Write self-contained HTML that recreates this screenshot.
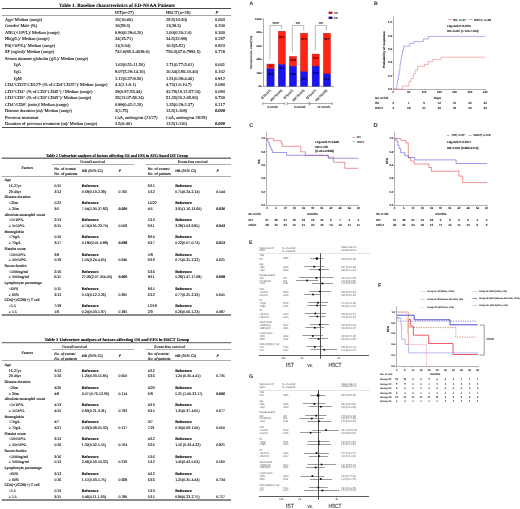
<!DOCTYPE html>
<html><head><meta charset="utf-8"><style>
html,body{margin:0;padding:0;background:#fff;width:520px;height:509px;overflow:hidden}
svg{display:block;will-change:transform}
</style></head><body>
<svg width="520" height="509" viewBox="0 0 520 509" font-family='"Liberation Serif", serif' text-rendering="geometricPrecision">
<rect width="520" height="509" fill="#fff"/>
<text x="59.00" y="6.60" font-size="5.0" font-weight="bold" textLength="116" lengthAdjust="spacingAndGlyphs" stroke="#000" stroke-width="0.08">Table 1. Baseline characteristics of ED-NSAA Patients</text>
<line x1="2.00" y1="8.50" x2="231.00" y2="8.50" stroke="#333" stroke-width="0.9"/>
<text x="115.00" y="13.60" font-size="4.45" stroke="#000" stroke-width="0.08">IST(n=27)</text>
<text x="166.00" y="13.60" font-size="4.45" stroke="#000" stroke-width="0.08">HSCT (n=28)</text>
<text x="215.50" y="13.60" font-size="4.45" font-style="italic" stroke="#000" stroke-width="0.08">P</text>
<line x1="2.00" y1="15.50" x2="231.00" y2="15.50" stroke="#666" stroke-width="0.6"/>
<text x="5.00" y="20.75" font-size="4.45" stroke="#000" stroke-width="0.08">Age/ Median (range)</text>
<text x="115.00" y="20.75" font-size="4.45" stroke="#000" stroke-width="0.08">26(16-60)</text>
<text x="166.00" y="20.75" font-size="4.45" stroke="#000" stroke-width="0.08">28.5(16-50)</text>
<text x="215.00" y="20.75" font-size="4.45" stroke="#000" stroke-width="0.08">0.663</text>
<text x="5.00" y="27.28" font-size="4.45" stroke="#000" stroke-width="0.08">Gender/ Male (%)</text>
<text x="115.00" y="27.28" font-size="4.45" stroke="#000" stroke-width="0.08">16(59.3)</text>
<text x="166.00" y="27.28" font-size="4.45" stroke="#000" stroke-width="0.08">11(39.3)</text>
<text x="215.00" y="27.28" font-size="4.45" stroke="#000" stroke-width="0.08">0.200</text>
<text x="5.00" y="33.81" font-size="4.45" stroke="#000" stroke-width="0.08">ANC(×10<tspan dy="-1" font-size="70%">9</tspan><tspan dy="1">/L)/ Median (range)</tspan></text>
<text x="115.00" y="33.81" font-size="4.45" stroke="#000" stroke-width="0.08">0.90(0.29-6.20)</text>
<text x="166.00" y="33.81" font-size="4.45" stroke="#000" stroke-width="0.08">1.00(0.20-2.0)</text>
<text x="215.00" y="33.81" font-size="4.45" stroke="#000" stroke-width="0.08">0.360</text>
<text x="5.00" y="40.34" font-size="4.45" stroke="#000" stroke-width="0.08">Hb(g/L)/ Median (range)</text>
<text x="115.00" y="40.34" font-size="4.45" stroke="#000" stroke-width="0.08">34(15-71)</text>
<text x="166.00" y="40.34" font-size="4.45" stroke="#000" stroke-width="0.08">34.5(32-99)</text>
<text x="215.00" y="40.34" font-size="4.45" stroke="#000" stroke-width="0.08">0.287</text>
<text x="5.00" y="46.87" font-size="4.45" stroke="#000" stroke-width="0.08">Plt(×10<tspan dy="-1" font-size="70%">9</tspan><tspan dy="1">/L)/ Median (range)</tspan></text>
<text x="115.00" y="46.87" font-size="4.45" stroke="#000" stroke-width="0.08">11(3-34)</text>
<text x="166.00" y="46.87" font-size="4.45" stroke="#000" stroke-width="0.08">10.5(5-52)</text>
<text x="215.00" y="46.87" font-size="4.45" stroke="#000" stroke-width="0.08">0.923</text>
<text x="5.00" y="53.40" font-size="4.45" stroke="#000" stroke-width="0.08">SF (ng/ml)/ Median (range)</text>
<text x="115.00" y="53.40" font-size="4.45" stroke="#000" stroke-width="0.08">742.0(95.3-4639.6)</text>
<text x="166.00" y="53.40" font-size="4.45" stroke="#000" stroke-width="0.08">756.3(47.0-7991.5)</text>
<text x="215.00" y="53.40" font-size="4.45" stroke="#000" stroke-width="0.08">0.728</text>
<text x="5.00" y="59.93" font-size="4.45" stroke="#000" stroke-width="0.08">Serum immune globulin (g/L)/ Median (range)</text>
<text x="14.00" y="66.46" font-size="4.45" stroke="#000" stroke-width="0.08">IgA</text>
<text x="115.00" y="66.46" font-size="4.45" stroke="#000" stroke-width="0.08">1.63(0.51-11.50)</text>
<text x="166.00" y="66.46" font-size="4.45" stroke="#000" stroke-width="0.08">1.71(0.77-5.61)</text>
<text x="215.00" y="66.46" font-size="4.45" stroke="#000" stroke-width="0.08">0.641</text>
<text x="14.00" y="72.99" font-size="4.45" stroke="#000" stroke-width="0.08">IgG</text>
<text x="115.00" y="72.99" font-size="4.45" stroke="#000" stroke-width="0.08">9.07(5.29-14.10)</text>
<text x="166.00" y="72.99" font-size="4.45" stroke="#000" stroke-width="0.08">10.34(3.95-16.40)</text>
<text x="215.00" y="72.99" font-size="4.45" stroke="#000" stroke-width="0.08">0.162</text>
<text x="14.00" y="79.52" font-size="4.45" stroke="#000" stroke-width="0.08">IgM</text>
<text x="115.00" y="79.52" font-size="4.45" stroke="#000" stroke-width="0.08">1.12(0.37-9.50)</text>
<text x="166.00" y="79.52" font-size="4.45" stroke="#000" stroke-width="0.08">1.51(0.39-4.40)</text>
<text x="215.00" y="79.52" font-size="4.45" stroke="#000" stroke-width="0.08">0.912</text>
<text x="5.00" y="86.05" font-size="4.45" stroke="#000" stroke-width="0.08">CD4<tspan dy="-1" font-size="70%">+</tspan><tspan dy="1">CD25</tspan><tspan dy="-1" font-size="70%">+</tspan><tspan dy="1">CD127</tspan><tspan dy="-1" font-size="70%">-</tspan><tspan dy="1"> (% of CD4</tspan><tspan dy="-1" font-size="70%">+</tspan><tspan dy="1">CD25</tspan><tspan dy="-1" font-size="70%">+</tspan><tspan dy="1">)/ Median (range)</tspan></text>
<text x="115.00" y="86.05" font-size="4.45" stroke="#000" stroke-width="0.08">4.3(2.1-8.1)</text>
<text x="166.00" y="86.05" font-size="4.45" stroke="#000" stroke-width="0.08">4.73(1.6-10.7)</text>
<text x="215.00" y="86.05" font-size="4.45" stroke="#000" stroke-width="0.08">0.090</text>
<text x="5.00" y="92.58" font-size="4.45" stroke="#000" stroke-width="0.08">CD3<tspan dy="-1" font-size="70%">+</tspan><tspan dy="1">CD4</tspan><tspan dy="-1" font-size="70%">+</tspan><tspan dy="1"> (% of CD3</tspan><tspan dy="-1" font-size="70%">+</tspan><tspan dy="1">CD45</tspan><tspan dy="-1" font-size="70%">+</tspan><tspan dy="1">) / Median (range)</tspan></text>
<text x="115.00" y="92.58" font-size="4.45" stroke="#000" stroke-width="0.08">39(0.87-55.44)</text>
<text x="166.00" y="92.58" font-size="4.45" stroke="#000" stroke-width="0.08">43.78(18.12-57.24)</text>
<text x="215.00" y="92.58" font-size="4.45" stroke="#000" stroke-width="0.08">0.093</text>
<text x="5.00" y="99.11" font-size="4.45" stroke="#000" stroke-width="0.08">CD3<tspan dy="-1" font-size="70%">+</tspan><tspan dy="1">CD8</tspan><tspan dy="-1" font-size="70%">+</tspan><tspan dy="1"> (% of CD3</tspan><tspan dy="-1" font-size="70%">+</tspan><tspan dy="1">CD45</tspan><tspan dy="-1" font-size="70%">+</tspan><tspan dy="1">)/ Median (range)</tspan></text>
<text x="115.00" y="99.11" font-size="4.45" stroke="#000" stroke-width="0.08">35(13.07-58.24)</text>
<text x="166.00" y="99.11" font-size="4.45" stroke="#000" stroke-width="0.08">51.35(20.2-65.93)</text>
<text x="215.00" y="99.11" font-size="4.45" stroke="#000" stroke-width="0.08">0.730</text>
<text x="5.00" y="105.64" font-size="4.45" stroke="#000" stroke-width="0.08">CD4<tspan dy="-1" font-size="70%">+</tspan><tspan dy="1">/CD8</tspan><tspan dy="-1" font-size="70%">+</tspan><tspan dy="1"> (ratio)/ Median (range)</tspan></text>
<text x="115.00" y="105.64" font-size="4.45" stroke="#000" stroke-width="0.08">0.99(0.42-2.28)</text>
<text x="166.00" y="105.64" font-size="4.45" stroke="#000" stroke-width="0.08">1.35(0.29-2.37)</text>
<text x="215.00" y="105.64" font-size="4.45" stroke="#000" stroke-width="0.08">0.217</text>
<text x="5.00" y="112.17" font-size="4.45" stroke="#000" stroke-width="0.08">Disease duration (m)/ Median (range)</text>
<text x="115.00" y="112.17" font-size="4.45" stroke="#000" stroke-width="0.08">3(1-75)</text>
<text x="166.00" y="112.17" font-size="4.45" stroke="#000" stroke-width="0.08">13.5(1-108)</text>
<text x="215.00" y="112.17" font-size="4.45" font-weight="bold" font-style="italic" stroke="#000" stroke-width="0.08">0.000</text>
<text x="5.00" y="118.70" font-size="4.45" stroke="#000" stroke-width="0.08">Previous treatment</text>
<text x="115.00" y="118.70" font-size="4.45" stroke="#000" stroke-width="0.08">CsA, androgens (21/27)</text>
<text x="166.00" y="118.70" font-size="4.45" stroke="#000" stroke-width="0.08">CsA, androgens 28/28)</text>
<text x="5.00" y="125.23" font-size="4.45" stroke="#000" stroke-width="0.08">Duration of previous treatment (m)/ Median (range)</text>
<text x="115.00" y="125.23" font-size="4.45" stroke="#000" stroke-width="0.08">3.5(0-40)</text>
<text x="166.00" y="125.23" font-size="4.45" stroke="#000" stroke-width="0.08">13.5(1-110)</text>
<text x="215.00" y="125.23" font-size="4.45" font-weight="bold" font-style="italic" stroke="#000" stroke-width="0.08">0.000</text>
<line x1="2.00" y1="127.50" x2="231.00" y2="127.50" stroke="#222" stroke-width="0.8"/>
<text x="46.00" y="156.60" font-size="4.2" font-weight="bold" textLength="142" lengthAdjust="spacingAndGlyphs" stroke="#000" stroke-width="0.1">Table 2 Univariate analyses of factors affecting OS and EFS in ATG-based IST Group</text>
<line x1="1.60" y1="158.20" x2="231.00" y2="158.20" stroke="#777" stroke-width="1.4"/>
<text x="80.30" y="162.90" font-size="3.9" textLength="24.7" lengthAdjust="spacingAndGlyphs" stroke="#000" stroke-width="0.1">Overall survival</text>
<text x="177.70" y="162.90" font-size="3.9" textLength="30" lengthAdjust="spacingAndGlyphs" stroke="#000" stroke-width="0.1">Event-free survival</text>
<line x1="52.00" y1="164.50" x2="134.00" y2="164.50" stroke="#777" stroke-width="0.6"/>
<line x1="145.50" y1="164.50" x2="231.00" y2="164.50" stroke="#777" stroke-width="0.6"/>
<text x="21.50" y="169.05" font-size="3.9" stroke="#000" stroke-width="0.1">Factors</text>
<text x="54.30" y="169.90" font-size="3.9" stroke="#000" stroke-width="0.1">No. of events/</text>
<text x="54.30" y="174.90" font-size="3.9" stroke="#000" stroke-width="0.1">No. of patients</text>
<text x="81.80" y="172.05" font-size="3.9" stroke="#000" stroke-width="0.1">HR (95% CI)</text>
<text x="118.80" y="172.05" font-size="3.9" font-style="italic" stroke="#000" stroke-width="0.1">P</text>
<text x="147.80" y="169.90" font-size="3.9" stroke="#000" stroke-width="0.1">No. of events/</text>
<text x="147.80" y="174.90" font-size="3.9" stroke="#000" stroke-width="0.1">No. of patients</text>
<text x="175.20" y="172.05" font-size="3.9" stroke="#000" stroke-width="0.1">HR (95% CI)</text>
<text x="216.40" y="172.05" font-size="3.9" font-style="italic" stroke="#000" stroke-width="0.1">P</text>
<line x1="1.60" y1="176.50" x2="231.00" y2="176.50" stroke="#888" stroke-width="0.7"/>
<text x="4.40" y="181.30" font-size="3.9" stroke="#000" stroke-width="0.1">Age</text>
<text x="8.80" y="187.01" font-size="3.9" stroke="#000" stroke-width="0.1">16-27yr</text>
<text x="54.30" y="187.01" font-size="3.9" stroke="#000" stroke-width="0.1">5/15</text>
<text x="147.80" y="187.01" font-size="3.9" stroke="#000" stroke-width="0.1">9/15</text>
<text x="81.80" y="187.01" font-size="3.9" font-weight="bold" stroke="#000" stroke-width="0.1">Reference</text>
<text x="175.20" y="187.01" font-size="3.9" font-weight="bold" stroke="#000" stroke-width="0.1">Reference</text>
<text x="8.80" y="192.72" font-size="3.9" stroke="#000" stroke-width="0.1">29-40yr</text>
<text x="54.30" y="192.72" font-size="3.9" stroke="#000" stroke-width="0.1">3/12</text>
<text x="147.80" y="192.72" font-size="3.9" stroke="#000" stroke-width="0.1">5/12</text>
<text x="81.80" y="192.72" font-size="3.9" stroke="#000" stroke-width="0.1">0.68(0.19-2.39)</text>
<text x="175.20" y="192.72" font-size="3.9" stroke="#000" stroke-width="0.1">0.71(0.24-2.14)</text>
<text x="118.50" y="192.72" font-size="3.9" stroke="#000" stroke-width="0.1">0.760</text>
<text x="216.20" y="192.72" font-size="3.9" stroke="#000" stroke-width="0.1">0.544</text>
<text x="4.40" y="198.43" font-size="3.9" stroke="#000" stroke-width="0.1">Disease duration</text>
<text x="8.80" y="204.14" font-size="3.9" stroke="#000" stroke-width="0.1">&lt;20m</text>
<text x="54.30" y="204.14" font-size="3.9" stroke="#000" stroke-width="0.1">5/22</text>
<text x="147.80" y="204.14" font-size="3.9" stroke="#000" stroke-width="0.1">10/22</text>
<text x="81.80" y="204.14" font-size="3.9" font-weight="bold" stroke="#000" stroke-width="0.1">Reference</text>
<text x="175.20" y="204.14" font-size="3.9" font-weight="bold" stroke="#000" stroke-width="0.1">Reference</text>
<text x="8.80" y="209.85" font-size="3.9" stroke="#000" stroke-width="0.1">≥ 20m</text>
<text x="54.30" y="209.85" font-size="3.9" stroke="#000" stroke-width="0.1">3/5</text>
<text x="147.80" y="209.85" font-size="3.9" stroke="#000" stroke-width="0.1">4/5</text>
<text x="81.80" y="209.85" font-size="3.9" stroke="#000" stroke-width="0.1">7.04(1.30-37.82)</text>
<text x="175.20" y="209.85" font-size="3.9" stroke="#000" stroke-width="0.1">3.91(1.16-13.60)</text>
<text x="118.50" y="209.85" font-size="3.9" font-weight="bold" font-style="italic" stroke="#000" stroke-width="0.1">0.029</text>
<text x="216.20" y="209.85" font-size="3.9" font-weight="bold" font-style="italic" stroke="#000" stroke-width="0.1">0.030</text>
<text x="4.40" y="215.56" font-size="3.9" stroke="#000" stroke-width="0.1">Absolute neutrophil count</text>
<text x="8.80" y="221.27" font-size="3.9" stroke="#000" stroke-width="0.1">&lt;1×10<tspan dy="-1" font-size="70%">9</tspan><tspan dy="1">/L</tspan></text>
<text x="54.30" y="221.27" font-size="3.9" stroke="#000" stroke-width="0.1">2/13</text>
<text x="147.80" y="221.27" font-size="3.9" stroke="#000" stroke-width="0.1">5/13</text>
<text x="81.80" y="221.27" font-size="3.9" font-weight="bold" stroke="#000" stroke-width="0.1">Reference</text>
<text x="175.20" y="221.27" font-size="3.9" font-weight="bold" stroke="#000" stroke-width="0.1">Reference</text>
<text x="8.80" y="226.98" font-size="3.9" stroke="#000" stroke-width="0.1">≥ 1×10<tspan dy="-1" font-size="70%">9</tspan><tspan dy="1">/L</tspan></text>
<text x="54.30" y="226.98" font-size="3.9" stroke="#000" stroke-width="0.1">6/11</text>
<text x="147.80" y="226.98" font-size="3.9" stroke="#000" stroke-width="0.1">9/11</text>
<text x="81.80" y="226.98" font-size="3.9" stroke="#000" stroke-width="0.1">4.74(0.95-23.70)</text>
<text x="175.20" y="226.98" font-size="3.9" stroke="#000" stroke-width="0.1">3.28(1.03-9.85)</text>
<text x="118.50" y="226.98" font-size="3.9" stroke="#000" stroke-width="0.1">0.058</text>
<text x="216.20" y="226.98" font-size="3.9" font-weight="bold" font-style="italic" stroke="#000" stroke-width="0.1">0.043</text>
<text x="4.40" y="232.69" font-size="3.9" stroke="#000" stroke-width="0.1">Hemoglobin</text>
<text x="8.80" y="238.40" font-size="3.9" stroke="#000" stroke-width="0.1">&lt;70g/L</text>
<text x="54.30" y="238.40" font-size="3.9" stroke="#000" stroke-width="0.1">5/10</text>
<text x="147.80" y="238.40" font-size="3.9" stroke="#000" stroke-width="0.1">8/10</text>
<text x="81.80" y="238.40" font-size="3.9" font-weight="bold" stroke="#000" stroke-width="0.1">Reference</text>
<text x="175.20" y="238.40" font-size="3.9" font-weight="bold" stroke="#000" stroke-width="0.1">Reference</text>
<text x="8.80" y="244.11" font-size="3.9" stroke="#000" stroke-width="0.1">≥ 70g/L</text>
<text x="54.30" y="244.11" font-size="3.9" stroke="#000" stroke-width="0.1">3/17</text>
<text x="147.80" y="244.11" font-size="3.9" stroke="#000" stroke-width="0.1">6/17</text>
<text x="81.80" y="244.11" font-size="3.9" stroke="#000" stroke-width="0.1">0.180(0.01-0.88)</text>
<text x="175.20" y="244.11" font-size="3.9" stroke="#000" stroke-width="0.1">0.22(0.07-0.73)</text>
<text x="118.50" y="244.11" font-size="3.9" font-weight="bold" font-style="italic" stroke="#000" stroke-width="0.1">0.038</text>
<text x="216.20" y="244.11" font-size="3.9" font-weight="bold" font-style="italic" stroke="#000" stroke-width="0.1">0.013</text>
<text x="4.40" y="249.82" font-size="3.9" stroke="#000" stroke-width="0.1">Platelet count</text>
<text x="8.80" y="255.53" font-size="3.9" stroke="#000" stroke-width="0.1">&lt;10×10<tspan dy="-1" font-size="70%">9</tspan><tspan dy="1">/L</tspan></text>
<text x="54.30" y="255.53" font-size="3.9" stroke="#000" stroke-width="0.1">3/8</text>
<text x="147.80" y="255.53" font-size="3.9" stroke="#000" stroke-width="0.1">5/8</text>
<text x="81.80" y="255.53" font-size="3.9" font-weight="bold" stroke="#000" stroke-width="0.1">Reference</text>
<text x="175.20" y="255.53" font-size="3.9" font-weight="bold" stroke="#000" stroke-width="0.1">Reference</text>
<text x="8.80" y="261.24" font-size="3.9" stroke="#000" stroke-width="0.1">≥ 10×10<tspan dy="-1" font-size="70%">9</tspan><tspan dy="1">/L</tspan></text>
<text x="54.30" y="261.24" font-size="3.9" stroke="#000" stroke-width="0.1">5/19</text>
<text x="147.80" y="261.24" font-size="3.9" stroke="#000" stroke-width="0.1">9/19</text>
<text x="81.80" y="261.24" font-size="3.9" stroke="#000" stroke-width="0.1">1.05(0.24-4.65)</text>
<text x="175.20" y="261.24" font-size="3.9" stroke="#000" stroke-width="0.1">0.75(0.25-2.22)</text>
<text x="118.50" y="261.24" font-size="3.9" stroke="#000" stroke-width="0.1">0.940</text>
<text x="216.20" y="261.24" font-size="3.9" stroke="#000" stroke-width="0.1">0.621</text>
<text x="4.40" y="266.95" font-size="3.9" stroke="#000" stroke-width="0.1">Serum ferritin</text>
<text x="8.80" y="272.66" font-size="3.9" stroke="#000" stroke-width="0.1">&lt;1000ng/ml</text>
<text x="54.30" y="272.66" font-size="3.9" stroke="#000" stroke-width="0.1">2/16</text>
<text x="147.80" y="272.66" font-size="3.9" stroke="#000" stroke-width="0.1">6/16</text>
<text x="81.80" y="272.66" font-size="3.9" font-weight="bold" stroke="#000" stroke-width="0.1">Reference</text>
<text x="175.20" y="272.66" font-size="3.9" font-weight="bold" stroke="#000" stroke-width="0.1">Reference</text>
<text x="8.80" y="278.37" font-size="3.9" stroke="#000" stroke-width="0.1">≥ 1000ng/ml</text>
<text x="54.30" y="278.37" font-size="3.9" stroke="#000" stroke-width="0.1">6/11</text>
<text x="147.80" y="278.37" font-size="3.9" stroke="#000" stroke-width="0.1">8/11</text>
<text x="81.80" y="278.37" font-size="3.9" stroke="#000" stroke-width="0.1">27.09(2.07-354.00)</text>
<text x="175.20" y="278.37" font-size="3.9" stroke="#000" stroke-width="0.1">5.28(1.47-17.68)</text>
<text x="118.50" y="278.37" font-size="3.9" font-weight="bold" font-style="italic" stroke="#000" stroke-width="0.1">0.009</text>
<text x="216.20" y="278.37" font-size="3.9" font-weight="bold" font-style="italic" stroke="#000" stroke-width="0.1">0.008</text>
<text x="4.40" y="284.08" font-size="3.9" stroke="#000" stroke-width="0.1">Lymphocyte percentage</text>
<text x="8.80" y="289.79" font-size="3.9" stroke="#000" stroke-width="0.1">&lt;60%</text>
<text x="54.30" y="289.79" font-size="3.9" stroke="#000" stroke-width="0.1">5/15</text>
<text x="147.80" y="289.79" font-size="3.9" stroke="#000" stroke-width="0.1">8/15</text>
<text x="81.80" y="289.79" font-size="3.9" font-weight="bold" stroke="#000" stroke-width="0.1">Reference</text>
<text x="175.20" y="289.79" font-size="3.9" font-weight="bold" stroke="#000" stroke-width="0.1">Reference</text>
<text x="8.80" y="295.50" font-size="3.9" stroke="#000" stroke-width="0.1">≥ 60%</text>
<text x="54.30" y="295.50" font-size="3.9" stroke="#000" stroke-width="0.1">3/12</text>
<text x="147.80" y="295.50" font-size="3.9" stroke="#000" stroke-width="0.1">6/12</text>
<text x="81.80" y="295.50" font-size="3.9" stroke="#000" stroke-width="0.1">0.53(0.12-2.26)</text>
<text x="175.20" y="295.50" font-size="3.9" stroke="#000" stroke-width="0.1">0.77(0.25-2.33)</text>
<text x="118.50" y="295.50" font-size="3.9" stroke="#000" stroke-width="0.1">0.395</text>
<text x="216.20" y="295.50" font-size="3.9" stroke="#000" stroke-width="0.1">0.641</text>
<text x="4.40" y="301.21" font-size="3.9" stroke="#000" stroke-width="0.1">CD4(+)/CD8(+) T cell</text>
<text x="8.80" y="306.92" font-size="3.9" stroke="#000" stroke-width="0.1">&lt;1.5</text>
<text x="54.30" y="306.92" font-size="3.9" stroke="#000" stroke-width="0.1">7/18</text>
<text x="147.80" y="306.92" font-size="3.9" stroke="#000" stroke-width="0.1">12/18</text>
<text x="81.80" y="306.92" font-size="3.9" font-weight="bold" stroke="#000" stroke-width="0.1">Reference</text>
<text x="175.20" y="306.92" font-size="3.9" font-weight="bold" stroke="#000" stroke-width="0.1">Reference</text>
<text x="8.80" y="312.63" font-size="3.9" stroke="#000" stroke-width="0.1">≥ 1.5</text>
<text x="54.30" y="312.63" font-size="3.9" stroke="#000" stroke-width="0.1">1/9</text>
<text x="147.80" y="312.63" font-size="3.9" stroke="#000" stroke-width="0.1">2/9</text>
<text x="81.80" y="312.63" font-size="3.9" stroke="#000" stroke-width="0.1">0.24(0.03-1.97)</text>
<text x="175.20" y="312.63" font-size="3.9" stroke="#000" stroke-width="0.1">0.26(0.06-1.23)</text>
<text x="118.50" y="312.63" font-size="3.9" stroke="#000" stroke-width="0.1">0.185</text>
<text x="216.20" y="312.63" font-size="3.9" stroke="#000" stroke-width="0.1">0.087</text>
<line x1="1.60" y1="315.10" x2="231.00" y2="315.10" stroke="#666" stroke-width="1.5"/>
<text x="44.50" y="341.00" font-size="4.2" font-weight="bold" textLength="144.7" lengthAdjust="spacingAndGlyphs" stroke="#000" stroke-width="0.1">Table 3 Univariate analyses of factors affecting OS and EFS in HSCT Group</text>
<line x1="1.60" y1="342.60" x2="231.00" y2="342.60" stroke="#777" stroke-width="1.4"/>
<text x="62.00" y="347.60" font-size="3.9" textLength="25" lengthAdjust="spacingAndGlyphs" stroke="#000" stroke-width="0.1">Overall survival</text>
<text x="154.30" y="347.60" font-size="3.9" textLength="30.7" lengthAdjust="spacingAndGlyphs" stroke="#000" stroke-width="0.1">Event-free survival</text>
<line x1="52.00" y1="349.50" x2="134.00" y2="349.50" stroke="#777" stroke-width="0.6"/>
<line x1="145.50" y1="349.50" x2="231.00" y2="349.50" stroke="#777" stroke-width="0.6"/>
<text x="21.50" y="353.55" font-size="3.9" stroke="#000" stroke-width="0.1">Factors</text>
<text x="54.30" y="354.60" font-size="3.9" font-style="italic" stroke="#000" stroke-width="0.1">No. of events/</text>
<text x="54.30" y="359.60" font-size="3.9" font-style="italic" stroke="#000" stroke-width="0.1">No. of patients</text>
<text x="81.80" y="356.55" font-size="3.9" stroke="#000" stroke-width="0.1">HR (95% CI)</text>
<text x="118.80" y="356.55" font-size="3.9" font-style="italic" stroke="#000" stroke-width="0.1">P</text>
<text x="147.80" y="354.60" font-size="3.9" font-style="italic" stroke="#000" stroke-width="0.1">No. of events/</text>
<text x="147.80" y="359.60" font-size="3.9" font-style="italic" stroke="#000" stroke-width="0.1">No. of patients</text>
<text x="175.20" y="356.55" font-size="3.9" stroke="#000" stroke-width="0.1">HR (95% CI)</text>
<text x="216.40" y="356.55" font-size="3.9" font-style="italic" stroke="#000" stroke-width="0.1">P</text>
<line x1="1.60" y1="360.50" x2="231.00" y2="360.50" stroke="#888" stroke-width="0.7"/>
<text x="4.40" y="366.00" font-size="3.9" stroke="#000" stroke-width="0.1">Age</text>
<text x="8.80" y="371.73" font-size="3.9" stroke="#000" stroke-width="0.1">16-27yr</text>
<text x="54.30" y="371.73" font-size="3.9" stroke="#000" stroke-width="0.1">3/12</text>
<text x="147.80" y="371.73" font-size="3.9" stroke="#000" stroke-width="0.1">4/12</text>
<text x="81.80" y="371.73" font-size="3.9" font-weight="bold" stroke="#000" stroke-width="0.1">Reference</text>
<text x="175.20" y="371.73" font-size="3.9" font-weight="bold" stroke="#000" stroke-width="0.1">Reference</text>
<text x="8.80" y="377.46" font-size="3.9" stroke="#000" stroke-width="0.1">29-40yr</text>
<text x="54.30" y="377.46" font-size="3.9" stroke="#000" stroke-width="0.1">5/16</text>
<text x="147.80" y="377.46" font-size="3.9" stroke="#000" stroke-width="0.1">6/16</text>
<text x="81.80" y="377.46" font-size="3.9" stroke="#000" stroke-width="0.1">1.20(0.33-55.85)</text>
<text x="175.20" y="377.46" font-size="3.9" stroke="#000" stroke-width="0.1">1.24 (0.35-4.41)</text>
<text x="118.50" y="377.46" font-size="3.9" stroke="#000" stroke-width="0.1">0.650</text>
<text x="216.20" y="377.46" font-size="3.9" stroke="#000" stroke-width="0.1">0.735</text>
<text x="4.40" y="383.19" font-size="3.9" stroke="#000" stroke-width="0.1">Disease duration</text>
<text x="8.80" y="388.92" font-size="3.9" stroke="#000" stroke-width="0.1">&lt;20m</text>
<text x="54.30" y="388.92" font-size="3.9" stroke="#000" stroke-width="0.1">4/20</text>
<text x="147.80" y="388.92" font-size="3.9" stroke="#000" stroke-width="0.1">4/20</text>
<text x="81.80" y="388.92" font-size="3.9" font-weight="bold" stroke="#000" stroke-width="0.1">Reference</text>
<text x="175.20" y="388.92" font-size="3.9" font-weight="bold" stroke="#000" stroke-width="0.1">Reference</text>
<text x="8.80" y="394.65" font-size="3.9" stroke="#000" stroke-width="0.1">≥ 20m</text>
<text x="54.30" y="394.65" font-size="3.9" stroke="#000" stroke-width="0.1">4/8</text>
<text x="147.80" y="394.65" font-size="3.9" stroke="#000" stroke-width="0.1">6/8</text>
<text x="81.80" y="394.65" font-size="3.9" stroke="#000" stroke-width="0.1">3.07 (0.76-12.39)</text>
<text x="175.20" y="394.65" font-size="3.9" stroke="#000" stroke-width="0.1">5.25 (1.00-23.17)</text>
<text x="118.50" y="394.65" font-size="3.9" stroke="#000" stroke-width="0.1">0.114</text>
<text x="216.20" y="394.65" font-size="3.9" font-weight="bold" font-style="italic" stroke="#000" stroke-width="0.1">0.006</text>
<text x="4.40" y="400.38" font-size="3.9" stroke="#000" stroke-width="0.1">Absolute neutrophil count</text>
<text x="8.80" y="406.11" font-size="3.9" stroke="#000" stroke-width="0.1">&lt;1×10<tspan dy="-1" font-size="70%">9</tspan><tspan dy="1">/L</tspan></text>
<text x="54.30" y="406.11" font-size="3.9" stroke="#000" stroke-width="0.1">4/13</text>
<text x="147.80" y="406.11" font-size="3.9" stroke="#000" stroke-width="0.1">4/13</text>
<text x="81.80" y="406.11" font-size="3.9" font-weight="bold" stroke="#000" stroke-width="0.1">Reference</text>
<text x="175.20" y="406.11" font-size="3.9" font-weight="bold" stroke="#000" stroke-width="0.1">Reference</text>
<text x="8.80" y="411.84" font-size="3.9" stroke="#000" stroke-width="0.1">≥ 1×10<tspan dy="-1" font-size="70%">9</tspan><tspan dy="1">/L</tspan></text>
<text x="54.30" y="411.84" font-size="3.9" stroke="#000" stroke-width="0.1">4/15</text>
<text x="147.80" y="411.84" font-size="3.9" stroke="#000" stroke-width="0.1">6/15</text>
<text x="81.80" y="411.84" font-size="3.9" stroke="#000" stroke-width="0.1">0.83(0.21-3.31)</text>
<text x="175.20" y="411.84" font-size="3.9" stroke="#000" stroke-width="0.1">1.31(0.37-4.65)</text>
<text x="118.50" y="411.84" font-size="3.9" stroke="#000" stroke-width="0.1">0.792</text>
<text x="216.20" y="411.84" font-size="3.9" stroke="#000" stroke-width="0.1">0.677</text>
<text x="4.40" y="417.57" font-size="3.9" stroke="#000" stroke-width="0.1">Hemoglobin</text>
<text x="8.80" y="423.30" font-size="3.9" stroke="#000" stroke-width="0.1">&lt;70g/L</text>
<text x="54.30" y="423.30" font-size="3.9" stroke="#000" stroke-width="0.1">4/7</text>
<text x="147.80" y="423.30" font-size="3.9" stroke="#000" stroke-width="0.1">3/7</text>
<text x="81.80" y="423.30" font-size="3.9" font-weight="bold" stroke="#000" stroke-width="0.1">Reference</text>
<text x="175.20" y="423.30" font-size="3.9" font-weight="bold" stroke="#000" stroke-width="0.1">Reference</text>
<text x="8.80" y="429.03" font-size="3.9" stroke="#000" stroke-width="0.1">≥ 70g/L</text>
<text x="54.30" y="429.03" font-size="3.9" stroke="#000" stroke-width="0.1">4/21</text>
<text x="147.80" y="429.03" font-size="3.9" stroke="#000" stroke-width="0.1">7/21</text>
<text x="81.80" y="429.03" font-size="3.9" stroke="#000" stroke-width="0.1">0.33(0.08-01.32)</text>
<text x="175.20" y="429.03" font-size="3.9" stroke="#000" stroke-width="0.1">0.30(0.09-1.00)</text>
<text x="118.50" y="429.03" font-size="3.9" stroke="#000" stroke-width="0.1">0.117</text>
<text x="216.20" y="429.03" font-size="3.9" stroke="#000" stroke-width="0.1">0.050</text>
<text x="4.40" y="434.76" font-size="3.9" stroke="#000" stroke-width="0.1">Platelet count</text>
<text x="8.80" y="440.49" font-size="3.9" stroke="#000" stroke-width="0.1">&lt;10×10<tspan dy="-1" font-size="70%">9</tspan><tspan dy="1">/L</tspan></text>
<text x="54.30" y="440.49" font-size="3.9" stroke="#000" stroke-width="0.1">3/12</text>
<text x="147.80" y="440.49" font-size="3.9" stroke="#000" stroke-width="0.1">4/12</text>
<text x="81.80" y="440.49" font-size="3.9" font-weight="bold" stroke="#000" stroke-width="0.1">Reference</text>
<text x="175.20" y="440.49" font-size="3.9" font-weight="bold" stroke="#000" stroke-width="0.1">Reference</text>
<text x="8.80" y="446.22" font-size="3.9" stroke="#000" stroke-width="0.1">≥ 10×10<tspan dy="-1" font-size="70%">9</tspan><tspan dy="1">/L</tspan></text>
<text x="54.30" y="446.22" font-size="3.9" stroke="#000" stroke-width="0.1">5/16</text>
<text x="147.80" y="446.22" font-size="3.9" stroke="#000" stroke-width="0.1">6/16</text>
<text x="81.80" y="446.22" font-size="3.9" stroke="#000" stroke-width="0.1">1.32(0.32-5.55)</text>
<text x="175.20" y="446.22" font-size="3.9" stroke="#000" stroke-width="0.1">1.16 (0.33-4.22)</text>
<text x="118.50" y="446.22" font-size="3.9" stroke="#000" stroke-width="0.1">0.704</text>
<text x="216.20" y="446.22" font-size="3.9" stroke="#000" stroke-width="0.1">0.821</text>
<text x="4.40" y="451.95" font-size="3.9" stroke="#000" stroke-width="0.1">Serum ferritin</text>
<text x="8.80" y="457.68" font-size="3.9" stroke="#000" stroke-width="0.1">&lt;1000ng/ml</text>
<text x="54.30" y="457.68" font-size="3.9" stroke="#000" stroke-width="0.1">3/16</text>
<text x="147.80" y="457.68" font-size="3.9" stroke="#000" stroke-width="0.1">5/16</text>
<text x="81.80" y="457.68" font-size="3.9" font-weight="bold" stroke="#000" stroke-width="0.1">Reference</text>
<text x="175.20" y="457.68" font-size="3.9" font-weight="bold" stroke="#000" stroke-width="0.1">Reference</text>
<text x="8.80" y="463.41" font-size="3.9" stroke="#000" stroke-width="0.1">≥ 1000ng/ml</text>
<text x="54.30" y="463.41" font-size="3.9" stroke="#000" stroke-width="0.1">5/12</text>
<text x="147.80" y="463.41" font-size="3.9" stroke="#000" stroke-width="0.1">5/12</text>
<text x="81.80" y="463.41" font-size="3.9" stroke="#000" stroke-width="0.1">2.46(0.59-10.32)</text>
<text x="175.20" y="463.41" font-size="3.9" stroke="#000" stroke-width="0.1">1.45(0.42-5.03)</text>
<text x="118.50" y="463.41" font-size="3.9" stroke="#000" stroke-width="0.1">0.219</text>
<text x="216.20" y="463.41" font-size="3.9" stroke="#000" stroke-width="0.1">0.560</text>
<text x="4.40" y="469.14" font-size="3.9" stroke="#000" stroke-width="0.1">Lymphocyte percentage</text>
<text x="8.80" y="474.87" font-size="3.9" stroke="#000" stroke-width="0.1">&lt;60%</text>
<text x="54.30" y="474.87" font-size="3.9" stroke="#000" stroke-width="0.1">3/12</text>
<text x="147.80" y="474.87" font-size="3.9" stroke="#000" stroke-width="0.1">4/12</text>
<text x="81.80" y="474.87" font-size="3.9" font-weight="bold" stroke="#000" stroke-width="0.1">Reference</text>
<text x="175.20" y="474.87" font-size="3.9" font-weight="bold" stroke="#000" stroke-width="0.1">Reference</text>
<text x="8.80" y="480.60" font-size="3.9" stroke="#000" stroke-width="0.1">≥ 60%</text>
<text x="54.30" y="480.60" font-size="3.9" stroke="#000" stroke-width="0.1">5/16</text>
<text x="147.80" y="480.60" font-size="3.9" stroke="#000" stroke-width="0.1">6/16</text>
<text x="81.80" y="480.60" font-size="3.9" stroke="#000" stroke-width="0.1">1.57(0.33-5.75)</text>
<text x="175.20" y="480.60" font-size="3.9" stroke="#000" stroke-width="0.1">1.25(0.35-4.43)</text>
<text x="118.50" y="480.60" font-size="3.9" stroke="#000" stroke-width="0.1">0.668</text>
<text x="216.20" y="480.60" font-size="3.9" stroke="#000" stroke-width="0.1">0.734</text>
<text x="4.40" y="486.33" font-size="3.9" stroke="#000" stroke-width="0.1">CD4(+)/CD8(+) T cell</text>
<text x="8.80" y="492.06" font-size="3.9" stroke="#000" stroke-width="0.1">&lt;1.5</text>
<text x="54.30" y="492.06" font-size="3.9" stroke="#000" stroke-width="0.1">5/13</text>
<text x="147.80" y="492.06" font-size="3.9" stroke="#000" stroke-width="0.1">5/13</text>
<text x="81.80" y="492.06" font-size="3.9" font-weight="bold" stroke="#000" stroke-width="0.1">Reference</text>
<text x="175.20" y="492.06" font-size="3.9" font-weight="bold" stroke="#000" stroke-width="0.1">Reference</text>
<text x="8.80" y="497.79" font-size="3.9" stroke="#000" stroke-width="0.1">≥ 1.5</text>
<text x="54.30" y="497.79" font-size="3.9" stroke="#000" stroke-width="0.1">3/15</text>
<text x="147.80" y="497.79" font-size="3.9" stroke="#000" stroke-width="0.1">5/15</text>
<text x="81.80" y="497.79" font-size="3.9" stroke="#000" stroke-width="0.1">0.46(0.11-1.93)</text>
<text x="175.20" y="497.79" font-size="3.9" stroke="#000" stroke-width="0.1">0.80(0.23-2.75)</text>
<text x="118.50" y="497.79" font-size="3.9" stroke="#000" stroke-width="0.1">0.780</text>
<text x="216.20" y="497.79" font-size="3.9" stroke="#000" stroke-width="0.1">0.717</text>
<line x1="1.60" y1="499.90" x2="231.00" y2="499.90" stroke="#666" stroke-width="1.5"/>
<text x="249.40" y="4.60" font-size="5.2" font-family='"Liberation Sans", sans-serif' font-weight="bold" fill="#444" stroke="#444" stroke-width="0.1">A</text>
<text x="252.00" y="52.40" font-size="2.8" font-family='"Liberation Sans", sans-serif' font-weight="bold" text-anchor="middle" fill="#444" textLength="33.3" lengthAdjust="spacingAndGlyphs" transform="rotate(-90 252.00 52.40)" stroke="#444" stroke-width="0.1">Response rate(%)</text>
<line x1="263.50" y1="18.60" x2="263.50" y2="86.30" stroke="#555" stroke-width="0.5"/>
<line x1="261.80" y1="86.50" x2="263.10" y2="86.50" stroke="#555" stroke-width="0.4"/>
<text x="261.40" y="87.20" font-size="2.4" font-family='"Liberation Sans", sans-serif' font-weight="bold" text-anchor="end" fill="#333" textLength="3.0" lengthAdjust="spacingAndGlyphs" stroke="#333" stroke-width="0.1">0%</text>
<line x1="261.80" y1="72.50" x2="263.10" y2="72.50" stroke="#555" stroke-width="0.4"/>
<text x="261.40" y="73.70" font-size="2.4" font-family='"Liberation Sans", sans-serif' font-weight="bold" text-anchor="end" fill="#333" textLength="5.0" lengthAdjust="spacingAndGlyphs" stroke="#333" stroke-width="0.1">20%</text>
<line x1="261.80" y1="59.50" x2="263.10" y2="59.50" stroke="#555" stroke-width="0.4"/>
<text x="261.40" y="60.20" font-size="2.4" font-family='"Liberation Sans", sans-serif' font-weight="bold" text-anchor="end" fill="#333" textLength="5.0" lengthAdjust="spacingAndGlyphs" stroke="#333" stroke-width="0.1">40%</text>
<line x1="261.80" y1="45.50" x2="263.10" y2="45.50" stroke="#555" stroke-width="0.4"/>
<text x="261.40" y="46.70" font-size="2.4" font-family='"Liberation Sans", sans-serif' font-weight="bold" text-anchor="end" fill="#333" textLength="5.0" lengthAdjust="spacingAndGlyphs" stroke="#333" stroke-width="0.1">60%</text>
<line x1="261.80" y1="32.50" x2="263.10" y2="32.50" stroke="#555" stroke-width="0.4"/>
<text x="261.40" y="33.20" font-size="2.4" font-family='"Liberation Sans", sans-serif' font-weight="bold" text-anchor="end" fill="#333" textLength="5.0" lengthAdjust="spacingAndGlyphs" stroke="#333" stroke-width="0.1">80%</text>
<line x1="261.80" y1="18.50" x2="263.10" y2="18.50" stroke="#555" stroke-width="0.4"/>
<text x="261.40" y="19.70" font-size="2.4" font-family='"Liberation Sans", sans-serif' font-weight="bold" text-anchor="end" fill="#333" textLength="6.4" lengthAdjust="spacingAndGlyphs" stroke="#333" stroke-width="0.1">100%</text>
<line x1="263.10" y1="86.50" x2="334.00" y2="86.50" stroke="#555" stroke-width="0.5"/>
<rect x="266.90" y="64.00" width="7.30" height="4.80" fill="#ff2414" stroke="#a01010" stroke-width="0.3"/>
<rect x="266.90" y="68.80" width="7.30" height="17.50" fill="#1c14f0" stroke="#10108a" stroke-width="0.3"/>
<text x="270.55" y="67.00" font-size="3.0" font-family='"Liberation Sans", sans-serif' font-weight="bold" text-anchor="middle" fill="#600000" textLength="3.6" lengthAdjust="spacingAndGlyphs" stroke="#600000" stroke-width="0.2">7.4</text>
<text x="270.55" y="75.40" font-size="3.0" font-family='"Liberation Sans", sans-serif' font-weight="bold" text-anchor="middle" fill="#000060" textLength="5.4" lengthAdjust="spacingAndGlyphs" stroke="#000060" stroke-width="0.2">25.9</text>
<rect x="278.20" y="31.20" width="7.30" height="33.40" fill="#ff2414" stroke="#a01010" stroke-width="0.3"/>
<rect x="278.20" y="64.60" width="7.30" height="21.70" fill="#1c14f0" stroke="#10108a" stroke-width="0.3"/>
<text x="281.85" y="38.20" font-size="3.0" font-family='"Liberation Sans", sans-serif' font-weight="bold" text-anchor="middle" fill="#600000" textLength="5.4" lengthAdjust="spacingAndGlyphs" stroke="#600000" stroke-width="0.2">50.0</text>
<text x="281.85" y="69.10" font-size="3.0" font-family='"Liberation Sans", sans-serif' font-weight="bold" text-anchor="middle" fill="#000060" textLength="5.4" lengthAdjust="spacingAndGlyphs" stroke="#000060" stroke-width="0.2">32.1</text>
<rect x="289.30" y="56.40" width="7.30" height="9.80" fill="#ff2414" stroke="#a01010" stroke-width="0.3"/>
<rect x="289.30" y="66.20" width="7.30" height="20.10" fill="#1c14f0" stroke="#10108a" stroke-width="0.3"/>
<text x="292.95" y="61.40" font-size="3.0" font-family='"Liberation Sans", sans-serif' font-weight="bold" text-anchor="middle" fill="#600000" textLength="5.4" lengthAdjust="spacingAndGlyphs" stroke="#600000" stroke-width="0.2">14.8</text>
<text x="292.95" y="74.70" font-size="3.0" font-family='"Liberation Sans", sans-serif' font-weight="bold" text-anchor="middle" fill="#000060" textLength="5.4" lengthAdjust="spacingAndGlyphs" stroke="#000060" stroke-width="0.2">29.6</text>
<rect x="300.40" y="33.20" width="7.30" height="38.70" fill="#ff2414" stroke="#a01010" stroke-width="0.3"/>
<rect x="300.40" y="71.90" width="7.30" height="14.40" fill="#1c14f0" stroke="#10108a" stroke-width="0.3"/>
<text x="304.05" y="39.60" font-size="3.0" font-family='"Liberation Sans", sans-serif' font-weight="bold" text-anchor="middle" fill="#600000" textLength="5.4" lengthAdjust="spacingAndGlyphs" stroke="#600000" stroke-width="0.2">57.1</text>
<text x="304.05" y="79.70" font-size="3.0" font-family='"Liberation Sans", sans-serif' font-weight="bold" text-anchor="middle" fill="#000060" textLength="5.4" lengthAdjust="spacingAndGlyphs" stroke="#000060" stroke-width="0.2">21.4</text>
<rect x="312.10" y="54.00" width="7.30" height="12.10" fill="#ff2414" stroke="#a01010" stroke-width="0.3"/>
<rect x="312.10" y="66.10" width="7.30" height="20.20" fill="#1c14f0" stroke="#10108a" stroke-width="0.3"/>
<text x="315.75" y="58.60" font-size="3.0" font-family='"Liberation Sans", sans-serif' font-weight="bold" text-anchor="middle" fill="#600000" textLength="5.4" lengthAdjust="spacingAndGlyphs" stroke="#600000" stroke-width="0.2">18.5</text>
<text x="315.75" y="74.10" font-size="3.0" font-family='"Liberation Sans", sans-serif' font-weight="bold" text-anchor="middle" fill="#000060" textLength="5.4" lengthAdjust="spacingAndGlyphs" stroke="#000060" stroke-width="0.2">29.6</text>
<rect x="323.30" y="33.20" width="7.30" height="40.80" fill="#ff2414" stroke="#a01010" stroke-width="0.3"/>
<rect x="323.30" y="74.00" width="7.30" height="12.30" fill="#1c14f0" stroke="#10108a" stroke-width="0.3"/>
<text x="326.95" y="39.60" font-size="3.0" font-family='"Liberation Sans", sans-serif' font-weight="bold" text-anchor="middle" fill="#600000" textLength="5.4" lengthAdjust="spacingAndGlyphs" stroke="#600000" stroke-width="0.2">60.7</text>
<text x="326.95" y="80.40" font-size="3.0" font-family='"Liberation Sans", sans-serif' font-weight="bold" text-anchor="middle" fill="#000060" textLength="5.4" lengthAdjust="spacingAndGlyphs" stroke="#000060" stroke-width="0.2">17.9</text>
<path d="M269.90 59.50 L269.90 25.50 L281.50 25.50 L281.50 28.60" fill="none" stroke="#666" stroke-width="0.45"/>
<text x="275.70" y="25.20" font-size="4.0" font-family='"Liberation Sans", sans-serif' font-weight="bold" text-anchor="middle" fill="#333" textLength="6.5" lengthAdjust="spacingAndGlyphs" stroke="#333" stroke-width="0.1">***</text>
<path d="M292.40 52.50 L292.40 25.50 L303.70 25.50 L303.70 30.80" fill="none" stroke="#666" stroke-width="0.45"/>
<text x="298.05" y="25.20" font-size="4.0" font-family='"Liberation Sans", sans-serif' font-weight="bold" text-anchor="middle" fill="#333" textLength="4.4" lengthAdjust="spacingAndGlyphs" stroke="#333" stroke-width="0.1">**</text>
<path d="M315.30 50.50 L315.30 25.50 L326.40 25.50 L326.40 30.80" fill="none" stroke="#666" stroke-width="0.45"/>
<text x="320.85" y="25.20" font-size="4.0" font-family='"Liberation Sans", sans-serif' font-weight="bold" text-anchor="middle" fill="#333" textLength="4.4" lengthAdjust="spacingAndGlyphs" stroke="#333" stroke-width="0.1">**</text>
<rect x="328.60" y="11.60" width="3.80" height="2.40" fill="#c0262c"/>
<text x="333.80" y="14.00" font-size="2.8" font-family='"Liberation Sans", sans-serif' font-weight="bold" fill="#555" stroke="#555" stroke-width="0.1">CR</text>
<rect x="328.60" y="16.60" width="3.80" height="2.40" fill="#14148c"/>
<text x="333.80" y="19.00" font-size="2.8" font-family='"Liberation Sans", sans-serif' font-weight="bold" fill="#555" stroke="#555" stroke-width="0.1">PR</text>
<text x="271.10" y="90.60" font-size="3.0" font-family='"Liberation Sans", sans-serif' font-weight="bold" text-anchor="end" fill="#444" textLength="12.4" lengthAdjust="spacingAndGlyphs" transform="rotate(-45 271.10 90.60)" stroke="#444" stroke-width="0.1">IST(n=27)</text>
<text x="282.40" y="90.60" font-size="3.0" font-family='"Liberation Sans", sans-serif' font-weight="bold" text-anchor="end" fill="#444" textLength="15.5" lengthAdjust="spacingAndGlyphs" transform="rotate(-45 282.40 90.60)" stroke="#444" stroke-width="0.1">HSCT(n=28)</text>
<text x="293.50" y="90.60" font-size="3.0" font-family='"Liberation Sans", sans-serif' font-weight="bold" text-anchor="end" fill="#444" textLength="12.4" lengthAdjust="spacingAndGlyphs" transform="rotate(-45 293.50 90.60)" stroke="#444" stroke-width="0.1">IST(n=27)</text>
<text x="304.60" y="90.60" font-size="3.0" font-family='"Liberation Sans", sans-serif' font-weight="bold" text-anchor="end" fill="#444" textLength="15.5" lengthAdjust="spacingAndGlyphs" transform="rotate(-45 304.60 90.60)" stroke="#444" stroke-width="0.1">HSCT(n=28)</text>
<text x="316.30" y="90.60" font-size="3.0" font-family='"Liberation Sans", sans-serif' font-weight="bold" text-anchor="end" fill="#444" textLength="12.4" lengthAdjust="spacingAndGlyphs" transform="rotate(-45 316.30 90.60)" stroke="#444" stroke-width="0.1">IST(n=27)</text>
<text x="327.50" y="90.60" font-size="3.0" font-family='"Liberation Sans", sans-serif' font-weight="bold" text-anchor="end" fill="#444" textLength="15.5" lengthAdjust="spacingAndGlyphs" transform="rotate(-45 327.50 90.60)" stroke="#444" stroke-width="0.1">HSCT(n=28)</text>
<line x1="262.90" y1="103.50" x2="284.80" y2="103.50" stroke="#777" stroke-width="0.6"/>
<line x1="262.90" y1="102.30" x2="262.90" y2="105.20" stroke="#666" stroke-width="0.6"/>
<line x1="284.80" y1="102.30" x2="284.80" y2="105.20" stroke="#666" stroke-width="0.6"/>
<text x="272.60" y="108.10" font-size="3.0" font-family='"Liberation Sans", sans-serif' font-weight="bold" text-anchor="middle" fill="#444" textLength="10.7" lengthAdjust="spacingAndGlyphs" stroke="#444" stroke-width="0.1">3 month</text>
<line x1="287.40" y1="103.50" x2="309.30" y2="103.50" stroke="#777" stroke-width="0.6"/>
<line x1="287.40" y1="102.30" x2="287.40" y2="105.20" stroke="#666" stroke-width="0.6"/>
<line x1="309.30" y1="102.30" x2="309.30" y2="105.20" stroke="#666" stroke-width="0.6"/>
<text x="299.90" y="108.10" font-size="3.0" font-family='"Liberation Sans", sans-serif' font-weight="bold" text-anchor="middle" fill="#444" textLength="11.6" lengthAdjust="spacingAndGlyphs" stroke="#444" stroke-width="0.1">6 month</text>
<line x1="309.70" y1="103.50" x2="332.10" y2="103.50" stroke="#777" stroke-width="0.6"/>
<line x1="309.70" y1="102.30" x2="309.70" y2="105.20" stroke="#666" stroke-width="0.6"/>
<line x1="332.10" y1="102.30" x2="332.10" y2="105.20" stroke="#666" stroke-width="0.6"/>
<text x="323.70" y="108.10" font-size="3.0" font-family='"Liberation Sans", sans-serif' font-weight="bold" text-anchor="middle" fill="#444" textLength="13.0" lengthAdjust="spacingAndGlyphs" stroke="#444" stroke-width="0.1">12 month</text>
<text x="374.00" y="5.40" font-size="5.2" font-family='"Liberation Sans", sans-serif' font-weight="bold" fill="#444" stroke="#444" stroke-width="0.1">B</text>
<line x1="393.50" y1="16.20" x2="393.50" y2="89.10" stroke="#555" stroke-width="0.45"/>
<line x1="393.40" y1="89.50" x2="486.00" y2="89.50" stroke="#555" stroke-width="0.45"/>
<line x1="392.40" y1="22.50" x2="393.40" y2="22.50" stroke="#555" stroke-width="0.35"/>
<text x="392.00" y="23.45" font-size="2.8" font-family='"Liberation Sans", sans-serif' font-weight="bold" text-anchor="end" fill="#333" stroke="#333" stroke-width="0.1">1.0</text>
<line x1="392.40" y1="35.50" x2="393.40" y2="35.50" stroke="#555" stroke-width="0.35"/>
<text x="392.00" y="36.75" font-size="2.8" font-family='"Liberation Sans", sans-serif' font-weight="bold" text-anchor="end" fill="#333" stroke="#333" stroke-width="0.1">0.8</text>
<line x1="392.40" y1="49.50" x2="393.40" y2="49.50" stroke="#555" stroke-width="0.35"/>
<text x="392.00" y="50.05" font-size="2.8" font-family='"Liberation Sans", sans-serif' font-weight="bold" text-anchor="end" fill="#333" stroke="#333" stroke-width="0.1">0.6</text>
<line x1="392.40" y1="62.50" x2="393.40" y2="62.50" stroke="#555" stroke-width="0.35"/>
<text x="392.00" y="63.35" font-size="2.8" font-family='"Liberation Sans", sans-serif' font-weight="bold" text-anchor="end" fill="#333" stroke="#333" stroke-width="0.1">0.4</text>
<line x1="392.40" y1="75.50" x2="393.40" y2="75.50" stroke="#555" stroke-width="0.35"/>
<text x="392.00" y="76.65" font-size="2.8" font-family='"Liberation Sans", sans-serif' font-weight="bold" text-anchor="end" fill="#333" stroke="#333" stroke-width="0.1">0.2</text>
<line x1="392.40" y1="89.50" x2="393.40" y2="89.50" stroke="#555" stroke-width="0.35"/>
<text x="392.00" y="89.95" font-size="2.8" font-family='"Liberation Sans", sans-serif' font-weight="bold" text-anchor="end" fill="#333" stroke="#333" stroke-width="0.1">0.0</text>
<line x1="393.50" y1="89.10" x2="393.50" y2="90.10" stroke="#555" stroke-width="0.35"/>
<text x="393.40" y="93.30" font-size="2.8" font-family='"Liberation Sans", sans-serif' font-weight="bold" text-anchor="middle" fill="#333" stroke="#333" stroke-width="0.1">0</text>
<line x1="408.50" y1="89.10" x2="408.50" y2="90.10" stroke="#555" stroke-width="0.35"/>
<text x="408.70" y="93.30" font-size="2.8" font-family='"Liberation Sans", sans-serif' font-weight="bold" text-anchor="middle" fill="#333" stroke="#333" stroke-width="0.1">60</text>
<line x1="424.50" y1="89.10" x2="424.50" y2="90.10" stroke="#555" stroke-width="0.35"/>
<text x="424.00" y="93.30" font-size="2.8" font-family='"Liberation Sans", sans-serif' font-weight="bold" text-anchor="middle" fill="#333" stroke="#333" stroke-width="0.1">120</text>
<line x1="439.50" y1="89.10" x2="439.50" y2="90.10" stroke="#555" stroke-width="0.35"/>
<text x="439.30" y="93.30" font-size="2.8" font-family='"Liberation Sans", sans-serif' font-weight="bold" text-anchor="middle" fill="#333" stroke="#333" stroke-width="0.1">180</text>
<line x1="454.50" y1="89.10" x2="454.50" y2="90.10" stroke="#555" stroke-width="0.35"/>
<text x="454.60" y="93.30" font-size="2.8" font-family='"Liberation Sans", sans-serif' font-weight="bold" text-anchor="middle" fill="#333" stroke="#333" stroke-width="0.1">240</text>
<line x1="469.50" y1="89.10" x2="469.50" y2="90.10" stroke="#555" stroke-width="0.35"/>
<text x="469.90" y="93.30" font-size="2.8" font-family='"Liberation Sans", sans-serif' font-weight="bold" text-anchor="middle" fill="#333" stroke="#333" stroke-width="0.1">300</text>
<line x1="485.50" y1="89.10" x2="485.50" y2="90.10" stroke="#555" stroke-width="0.35"/>
<text x="485.20" y="93.30" font-size="2.8" font-family='"Liberation Sans", sans-serif' font-weight="bold" text-anchor="middle" fill="#333" stroke="#333" stroke-width="0.1">360</text>
<text textLength="37" lengthAdjust="spacingAndGlyphs" x="385.50" y="49.70" font-size="3.0" font-family='"Liberation Sans", sans-serif' font-weight="bold" text-anchor="middle" fill="#222" transform="rotate(-90 385.50 49.70)" stroke="#222" stroke-width="0.1">Probability of response</text>
<path d="M393.40 89.10 L396.00 89.10 L396.00 89.10 L396.80 89.10 L396.80 84.00 L397.60 84.00 L397.60 80.00 L398.40 80.00 L398.40 75.00 L399.20 75.00 L399.20 70.00 L400.00 70.00 L400.00 64.00 L400.80 64.00 L400.80 59.00 L401.60 59.00 L401.60 55.00 L402.50 55.00 L402.50 50.00 L403.50 50.00 L403.50 46.20 L409.70 46.20 L409.70 43.30 L414.00 43.30 L414.00 41.60 L423.40 41.60 L423.40 39.00 L428.40 39.00 L428.40 36.40 L484.70 36.40 L484.70 36.40" fill="none" stroke="#7a7ae8" stroke-width="0.6"/>
<path d="M393.40 89.10 L402.50 89.10 L402.50 86.00 L409.00 86.00 L409.00 81.40 L411.00 81.40 L411.00 78.50 L413.30 78.50 L413.30 73.80 L415.20 73.80 L415.20 70.20 L417.60 70.20 L417.60 66.30 L424.50 66.30 L424.50 64.40 L428.40 64.40 L428.40 61.50 L432.80 61.50 L432.80 59.30 L441.00 59.30 L441.00 57.20 L484.70 57.20 L484.70 57.20" fill="none" stroke="#ee7a80" stroke-width="0.6"/>
<line x1="448.40" y1="19.50" x2="451.80" y2="19.50" stroke="#e03a3a" stroke-width="0.5"/>
<text x="453.00" y="20.60" font-size="3.0" font-family='"Liberation Sans", sans-serif' font-weight="bold" fill="#333" textLength="13" lengthAdjust="spacingAndGlyphs" stroke="#333" stroke-width="0.1">IST, n=27</text>
<line x1="469.30" y1="19.50" x2="472.70" y2="19.50" stroke="#4a4ae0" stroke-width="0.5"/>
<text x="474.00" y="20.60" font-size="3.0" font-family='"Liberation Sans", sans-serif' font-weight="bold" fill="#333" textLength="17" lengthAdjust="spacingAndGlyphs" stroke="#333" stroke-width="0.1">HSCT, n=28</text>
<text x="447.00" y="26.80" font-size="3.0" font-family='"Liberation Sans", sans-serif' font-weight="bold" fill="#222" textLength="24" lengthAdjust="spacingAndGlyphs" stroke="#222" stroke-width="0.1">Log-rank P&lt;0.0001</text>
<text x="447.00" y="31.70" font-size="3.0" font-family='"Liberation Sans", sans-serif' font-weight="bold" fill="#333" textLength="31.5" lengthAdjust="spacingAndGlyphs" stroke="#333" stroke-width="0.1">HR=3.467 (1.724-7.033)</text>
<text x="375.00" y="98.60" font-size="3.0" font-family='"Liberation Sans", sans-serif' font-weight="bold" fill="#333" textLength="13.3" lengthAdjust="spacingAndGlyphs" stroke="#333" stroke-width="0.1">No. at risk</text>
<text x="437.40" y="98.60" font-size="3.2" font-family='"Liberation Sans", sans-serif' font-weight="bold" text-anchor="middle" fill="#333" textLength="7.4" lengthAdjust="spacingAndGlyphs" stroke="#333" stroke-width="0.1">days</text>
<text x="375.00" y="104.00" font-size="3.0" font-family='"Liberation Sans", sans-serif' font-weight="bold" fill="#333" stroke="#333" stroke-width="0.1">IST</text>
<text x="375.00" y="109.10" font-size="3.0" font-family='"Liberation Sans", sans-serif' font-weight="bold" fill="#333" stroke="#333" stroke-width="0.1">HSCT</text>
<text x="393.40" y="104.00" font-size="3.0" font-family='"Liberation Sans", sans-serif' font-weight="bold" text-anchor="middle" fill="#333" stroke="#333" stroke-width="0.1">0</text>
<text x="393.40" y="109.10" font-size="3.0" font-family='"Liberation Sans", sans-serif' font-weight="bold" text-anchor="middle" fill="#333" stroke="#333" stroke-width="0.1">0</text>
<text x="408.70" y="104.00" font-size="3.0" font-family='"Liberation Sans", sans-serif' font-weight="bold" text-anchor="middle" fill="#333" stroke="#333" stroke-width="0.1">1</text>
<text x="408.70" y="109.10" font-size="3.0" font-family='"Liberation Sans", sans-serif' font-weight="bold" text-anchor="middle" fill="#333" stroke="#333" stroke-width="0.1">18</text>
<text x="424.00" y="104.00" font-size="3.0" font-family='"Liberation Sans", sans-serif' font-weight="bold" text-anchor="middle" fill="#333" stroke="#333" stroke-width="0.1">9</text>
<text x="424.00" y="109.10" font-size="3.0" font-family='"Liberation Sans", sans-serif' font-weight="bold" text-anchor="middle" fill="#333" stroke="#333" stroke-width="0.1">21</text>
<text x="439.30" y="104.00" font-size="3.0" font-family='"Liberation Sans", sans-serif' font-weight="bold" text-anchor="middle" fill="#333" stroke="#333" stroke-width="0.1">12</text>
<text x="439.30" y="109.10" font-size="3.0" font-family='"Liberation Sans", sans-serif' font-weight="bold" text-anchor="middle" fill="#333" stroke="#333" stroke-width="0.1">22</text>
<text x="454.60" y="104.00" font-size="3.0" font-family='"Liberation Sans", sans-serif' font-weight="bold" text-anchor="middle" fill="#333" stroke="#333" stroke-width="0.1">21</text>
<text x="454.60" y="109.10" font-size="3.0" font-family='"Liberation Sans", sans-serif' font-weight="bold" text-anchor="middle" fill="#333" stroke="#333" stroke-width="0.1">22</text>
<text x="469.90" y="104.00" font-size="3.0" font-family='"Liberation Sans", sans-serif' font-weight="bold" text-anchor="middle" fill="#333" stroke="#333" stroke-width="0.1">22</text>
<text x="469.90" y="109.10" font-size="3.0" font-family='"Liberation Sans", sans-serif' font-weight="bold" text-anchor="middle" fill="#333" stroke="#333" stroke-width="0.1">22</text>
<text x="485.20" y="104.00" font-size="3.0" font-family='"Liberation Sans", sans-serif' font-weight="bold" text-anchor="middle" fill="#333" stroke="#333" stroke-width="0.1">22</text>
<text x="485.20" y="109.10" font-size="3.0" font-family='"Liberation Sans", sans-serif' font-weight="bold" text-anchor="middle" fill="#333" stroke="#333" stroke-width="0.1">22</text>
<text x="249.30" y="126.90" font-size="5.4" font-family='"Liberation Sans", sans-serif' font-weight="bold" fill="#444" stroke="#444" stroke-width="0.1">C</text>
<line x1="266.50" y1="131.50" x2="266.50" y2="205.30" stroke="#555" stroke-width="0.45"/>
<line x1="266.50" y1="205.50" x2="358.80" y2="205.50" stroke="#555" stroke-width="0.45"/>
<line x1="265.50" y1="138.50" x2="266.50" y2="138.50" stroke="#555" stroke-width="0.35"/>
<text x="265.10" y="139.45" font-size="2.7" font-family='"Liberation Sans", sans-serif' font-weight="bold" text-anchor="end" fill="#333" stroke="#333" stroke-width="0.1">1.0</text>
<line x1="265.50" y1="151.50" x2="266.50" y2="151.50" stroke="#555" stroke-width="0.35"/>
<text x="265.10" y="152.79" font-size="2.7" font-family='"Liberation Sans", sans-serif' font-weight="bold" text-anchor="end" fill="#333" stroke="#333" stroke-width="0.1">0.8</text>
<line x1="265.50" y1="165.50" x2="266.50" y2="165.50" stroke="#555" stroke-width="0.35"/>
<text x="265.10" y="166.13" font-size="2.7" font-family='"Liberation Sans", sans-serif' font-weight="bold" text-anchor="end" fill="#333" stroke="#333" stroke-width="0.1">0.6</text>
<line x1="265.50" y1="178.50" x2="266.50" y2="178.50" stroke="#555" stroke-width="0.35"/>
<text x="265.10" y="179.47" font-size="2.7" font-family='"Liberation Sans", sans-serif' font-weight="bold" text-anchor="end" fill="#333" stroke="#333" stroke-width="0.1">0.4</text>
<line x1="265.50" y1="191.50" x2="266.50" y2="191.50" stroke="#555" stroke-width="0.35"/>
<text x="265.10" y="192.81" font-size="2.7" font-family='"Liberation Sans", sans-serif' font-weight="bold" text-anchor="end" fill="#333" stroke="#333" stroke-width="0.1">0.2</text>
<line x1="265.50" y1="205.50" x2="266.50" y2="205.50" stroke="#555" stroke-width="0.35"/>
<text x="265.10" y="206.15" font-size="2.7" font-family='"Liberation Sans", sans-serif' font-weight="bold" text-anchor="end" fill="#333" stroke="#333" stroke-width="0.1">0.0</text>
<line x1="266.50" y1="205.30" x2="266.50" y2="206.30" stroke="#555" stroke-width="0.35"/>
<text x="266.90" y="209.40" font-size="2.7" font-family='"Liberation Sans", sans-serif' font-weight="bold" text-anchor="middle" fill="#333" stroke="#333" stroke-width="0.1">0</text>
<line x1="276.50" y1="205.30" x2="276.50" y2="206.30" stroke="#555" stroke-width="0.35"/>
<text x="276.05" y="209.40" font-size="2.7" font-family='"Liberation Sans", sans-serif' font-weight="bold" text-anchor="middle" fill="#333" stroke="#333" stroke-width="0.1">6</text>
<line x1="285.50" y1="205.30" x2="285.50" y2="206.30" stroke="#555" stroke-width="0.35"/>
<text x="285.20" y="209.40" font-size="2.7" font-family='"Liberation Sans", sans-serif' font-weight="bold" text-anchor="middle" fill="#333" stroke="#333" stroke-width="0.1">12</text>
<line x1="294.50" y1="205.30" x2="294.50" y2="206.30" stroke="#555" stroke-width="0.35"/>
<text x="294.35" y="209.40" font-size="2.7" font-family='"Liberation Sans", sans-serif' font-weight="bold" text-anchor="middle" fill="#333" stroke="#333" stroke-width="0.1">18</text>
<line x1="303.50" y1="205.30" x2="303.50" y2="206.30" stroke="#555" stroke-width="0.35"/>
<text x="303.50" y="209.40" font-size="2.7" font-family='"Liberation Sans", sans-serif' font-weight="bold" text-anchor="middle" fill="#333" stroke="#333" stroke-width="0.1">24</text>
<line x1="312.50" y1="205.30" x2="312.50" y2="206.30" stroke="#555" stroke-width="0.35"/>
<text x="312.65" y="209.40" font-size="2.7" font-family='"Liberation Sans", sans-serif' font-weight="bold" text-anchor="middle" fill="#333" stroke="#333" stroke-width="0.1">30</text>
<line x1="321.50" y1="205.30" x2="321.50" y2="206.30" stroke="#555" stroke-width="0.35"/>
<text x="321.80" y="209.40" font-size="2.7" font-family='"Liberation Sans", sans-serif' font-weight="bold" text-anchor="middle" fill="#333" stroke="#333" stroke-width="0.1">36</text>
<line x1="330.50" y1="205.30" x2="330.50" y2="206.30" stroke="#555" stroke-width="0.35"/>
<text x="330.95" y="209.40" font-size="2.7" font-family='"Liberation Sans", sans-serif' font-weight="bold" text-anchor="middle" fill="#333" stroke="#333" stroke-width="0.1">42</text>
<line x1="340.50" y1="205.30" x2="340.50" y2="206.30" stroke="#555" stroke-width="0.35"/>
<text x="340.10" y="209.40" font-size="2.7" font-family='"Liberation Sans", sans-serif' font-weight="bold" text-anchor="middle" fill="#333" stroke="#333" stroke-width="0.1">48</text>
<line x1="349.50" y1="205.30" x2="349.50" y2="206.30" stroke="#555" stroke-width="0.35"/>
<text x="349.25" y="209.40" font-size="2.7" font-family='"Liberation Sans", sans-serif' font-weight="bold" text-anchor="middle" fill="#333" stroke="#333" stroke-width="0.1">54</text>
<line x1="358.50" y1="205.30" x2="358.50" y2="206.30" stroke="#555" stroke-width="0.35"/>
<text x="358.40" y="209.40" font-size="2.7" font-family='"Liberation Sans", sans-serif' font-weight="bold" text-anchor="middle" fill="#333" stroke="#333" stroke-width="0.1">60</text>
<text x="259.80" y="161.60" font-size="3.0" font-family='"Liberation Sans", sans-serif' font-weight="bold" text-anchor="middle" fill="#222" transform="rotate(-90 259.80 161.60)" stroke="#222" stroke-width="0.1">OS</text>
<path d="M266.50 138.60 L273.60 138.60 L273.60 140.70 L281.20 140.70 L281.20 143.30 L282.40 143.30 L282.40 146.30 L300.70 146.30 L300.70 151.80 L305.30 151.80 L305.30 155.40 L328.00 155.40 L328.00 157.10 L333.60 157.10 L333.60 162.20 L344.80 162.20 L344.80 168.30 L358.40 168.30 L358.40 168.30" fill="none" stroke="#e03a3a" stroke-width="0.55"/>
<path d="M266.50 138.60 L267.40 138.60 L267.40 140.50 L268.30 140.50 L268.30 142.80 L269.20 142.80 L269.20 145.20 L270.20 145.20 L270.20 147.50 L271.20 147.50 L271.20 150.00 L272.40 150.00 L272.40 152.50 L286.60 152.50 L286.60 155.30 L328.30 155.30 L328.30 158.30 L358.40 158.30 L358.40 158.30" fill="none" stroke="#4a4ae0" stroke-width="0.55"/>
<text x="315.30" y="142.50" font-size="3.0" font-family='"Liberation Sans", sans-serif' font-weight="bold" fill="#222" textLength="23.5" lengthAdjust="spacingAndGlyphs" stroke="#222" stroke-width="0.1">Log-rank P=0.848</text>
<text x="315.30" y="147.70" font-size="3.0" font-family='"Liberation Sans", sans-serif' font-weight="bold" fill="#222" textLength="12.5" lengthAdjust="spacingAndGlyphs" stroke="#222" stroke-width="0.1">HR=1.106</text>
<text x="315.30" y="152.20" font-size="3.0" font-family='"Liberation Sans", sans-serif' font-weight="bold" fill="#222" textLength="18.5" lengthAdjust="spacingAndGlyphs" stroke="#222" stroke-width="0.1">(0.411-2.968)</text>
<line x1="352.60" y1="137.50" x2="355.00" y2="137.50" stroke="#e03a3a" stroke-width="0.5"/>
<text x="356.80" y="138.10" font-size="2.7" font-family='"Liberation Sans", sans-serif' font-weight="bold" fill="#444" stroke="#444" stroke-width="0.1">IST</text>
<line x1="352.60" y1="141.50" x2="355.00" y2="141.50" stroke="#4a4ae0" stroke-width="0.5"/>
<text x="356.80" y="142.80" font-size="2.7" font-family='"Liberation Sans", sans-serif' font-weight="bold" fill="#444" stroke="#444" stroke-width="0.1">HSCT</text>
<text x="248.50" y="215.20" font-size="3.0" font-family='"Liberation Sans", sans-serif' font-weight="bold" fill="#333" textLength="12.3" lengthAdjust="spacingAndGlyphs" stroke="#333" stroke-width="0.1">No. at risk</text>
<text x="312.50" y="215.20" font-size="3.2" font-family='"Liberation Sans", sans-serif' font-weight="bold" text-anchor="middle" fill="#333" textLength="11.2" lengthAdjust="spacingAndGlyphs" stroke="#333" stroke-width="0.1">months</text>
<text x="248.50" y="220.70" font-size="3.0" font-family='"Liberation Sans", sans-serif' font-weight="bold" fill="#333" stroke="#333" stroke-width="0.1">IST</text>
<text x="248.50" y="225.70" font-size="3.0" font-family='"Liberation Sans", sans-serif' font-weight="bold" fill="#333" stroke="#333" stroke-width="0.1">HSCT</text>
<text x="266.90" y="220.70" font-size="3.0" font-family='"Liberation Sans", sans-serif' font-weight="bold" text-anchor="middle" fill="#333" stroke="#333" stroke-width="0.1">27</text>
<text x="266.90" y="225.70" font-size="3.0" font-family='"Liberation Sans", sans-serif' font-weight="bold" text-anchor="middle" fill="#333" stroke="#333" stroke-width="0.1">28</text>
<text x="276.05" y="220.70" font-size="3.0" font-family='"Liberation Sans", sans-serif' font-weight="bold" text-anchor="middle" fill="#333" stroke="#333" stroke-width="0.1">26</text>
<text x="276.05" y="225.70" font-size="3.0" font-family='"Liberation Sans", sans-serif' font-weight="bold" text-anchor="middle" fill="#333" stroke="#333" stroke-width="0.1">22</text>
<text x="285.20" y="220.70" font-size="3.0" font-family='"Liberation Sans", sans-serif' font-weight="bold" text-anchor="middle" fill="#333" stroke="#333" stroke-width="0.1">21</text>
<text x="285.20" y="225.70" font-size="3.0" font-family='"Liberation Sans", sans-serif' font-weight="bold" text-anchor="middle" fill="#333" stroke="#333" stroke-width="0.1">22</text>
<text x="294.35" y="220.70" font-size="3.0" font-family='"Liberation Sans", sans-serif' font-weight="bold" text-anchor="middle" fill="#333" stroke="#333" stroke-width="0.1">20</text>
<text x="294.35" y="225.70" font-size="3.0" font-family='"Liberation Sans", sans-serif' font-weight="bold" text-anchor="middle" fill="#333" stroke="#333" stroke-width="0.1">21</text>
<text x="303.50" y="220.70" font-size="3.0" font-family='"Liberation Sans", sans-serif' font-weight="bold" text-anchor="middle" fill="#333" stroke="#333" stroke-width="0.1">19</text>
<text x="303.50" y="225.70" font-size="3.0" font-family='"Liberation Sans", sans-serif' font-weight="bold" text-anchor="middle" fill="#333" stroke="#333" stroke-width="0.1">21</text>
<text x="312.65" y="220.70" font-size="3.0" font-family='"Liberation Sans", sans-serif' font-weight="bold" text-anchor="middle" fill="#333" stroke="#333" stroke-width="0.1">19</text>
<text x="312.65" y="225.70" font-size="3.0" font-family='"Liberation Sans", sans-serif' font-weight="bold" text-anchor="middle" fill="#333" stroke="#333" stroke-width="0.1">20</text>
<text x="321.80" y="220.70" font-size="3.0" font-family='"Liberation Sans", sans-serif' font-weight="bold" text-anchor="middle" fill="#333" stroke="#333" stroke-width="0.1">15</text>
<text x="321.80" y="225.70" font-size="3.0" font-family='"Liberation Sans", sans-serif' font-weight="bold" text-anchor="middle" fill="#333" stroke="#333" stroke-width="0.1">19</text>
<text x="330.95" y="220.70" font-size="3.0" font-family='"Liberation Sans", sans-serif' font-weight="bold" text-anchor="middle" fill="#333" stroke="#333" stroke-width="0.1">9</text>
<text x="330.95" y="225.70" font-size="3.0" font-family='"Liberation Sans", sans-serif' font-weight="bold" text-anchor="middle" fill="#333" stroke="#333" stroke-width="0.1">13</text>
<text x="340.10" y="220.70" font-size="3.0" font-family='"Liberation Sans", sans-serif' font-weight="bold" text-anchor="middle" fill="#333" stroke="#333" stroke-width="0.1">7</text>
<text x="340.10" y="225.70" font-size="3.0" font-family='"Liberation Sans", sans-serif' font-weight="bold" text-anchor="middle" fill="#333" stroke="#333" stroke-width="0.1">13</text>
<text x="349.25" y="220.70" font-size="3.0" font-family='"Liberation Sans", sans-serif' font-weight="bold" text-anchor="middle" fill="#333" stroke="#333" stroke-width="0.1">4</text>
<text x="349.25" y="225.70" font-size="3.0" font-family='"Liberation Sans", sans-serif' font-weight="bold" text-anchor="middle" fill="#333" stroke="#333" stroke-width="0.1">11</text>
<text x="358.40" y="220.70" font-size="3.0" font-family='"Liberation Sans", sans-serif' font-weight="bold" text-anchor="middle" fill="#333" stroke="#333" stroke-width="0.1">4</text>
<text x="358.40" y="225.70" font-size="3.0" font-family='"Liberation Sans", sans-serif' font-weight="bold" text-anchor="middle" fill="#333" stroke="#333" stroke-width="0.1">11</text>
<text x="373.60" y="127.00" font-size="5.8" font-family='"Liberation Sans", sans-serif' font-weight="bold" fill="#444" stroke="#444" stroke-width="0.1">D</text>
<line x1="394.50" y1="131.50" x2="394.50" y2="205.30" stroke="#555" stroke-width="0.45"/>
<line x1="394.70" y1="205.50" x2="488.00" y2="205.50" stroke="#555" stroke-width="0.45"/>
<line x1="393.70" y1="138.50" x2="394.70" y2="138.50" stroke="#555" stroke-width="0.35"/>
<text x="393.30" y="139.45" font-size="2.7" font-family='"Liberation Sans", sans-serif' font-weight="bold" text-anchor="end" fill="#333" stroke="#333" stroke-width="0.1">1.0</text>
<line x1="393.70" y1="151.50" x2="394.70" y2="151.50" stroke="#555" stroke-width="0.35"/>
<text x="393.30" y="152.79" font-size="2.7" font-family='"Liberation Sans", sans-serif' font-weight="bold" text-anchor="end" fill="#333" stroke="#333" stroke-width="0.1">0.8</text>
<line x1="393.70" y1="165.50" x2="394.70" y2="165.50" stroke="#555" stroke-width="0.35"/>
<text x="393.30" y="166.13" font-size="2.7" font-family='"Liberation Sans", sans-serif' font-weight="bold" text-anchor="end" fill="#333" stroke="#333" stroke-width="0.1">0.6</text>
<line x1="393.70" y1="178.50" x2="394.70" y2="178.50" stroke="#555" stroke-width="0.35"/>
<text x="393.30" y="179.47" font-size="2.7" font-family='"Liberation Sans", sans-serif' font-weight="bold" text-anchor="end" fill="#333" stroke="#333" stroke-width="0.1">0.4</text>
<line x1="393.70" y1="191.50" x2="394.70" y2="191.50" stroke="#555" stroke-width="0.35"/>
<text x="393.30" y="192.81" font-size="2.7" font-family='"Liberation Sans", sans-serif' font-weight="bold" text-anchor="end" fill="#333" stroke="#333" stroke-width="0.1">0.2</text>
<line x1="393.70" y1="205.50" x2="394.70" y2="205.50" stroke="#555" stroke-width="0.35"/>
<text x="393.30" y="206.15" font-size="2.7" font-family='"Liberation Sans", sans-serif' font-weight="bold" text-anchor="end" fill="#333" stroke="#333" stroke-width="0.1">0.0</text>
<line x1="394.50" y1="205.30" x2="394.50" y2="206.30" stroke="#555" stroke-width="0.35"/>
<text x="394.60" y="209.40" font-size="2.7" font-family='"Liberation Sans", sans-serif' font-weight="bold" text-anchor="middle" fill="#333" stroke="#333" stroke-width="0.1">0</text>
<line x1="403.50" y1="205.30" x2="403.50" y2="206.30" stroke="#555" stroke-width="0.35"/>
<text x="403.80" y="209.40" font-size="2.7" font-family='"Liberation Sans", sans-serif' font-weight="bold" text-anchor="middle" fill="#333" stroke="#333" stroke-width="0.1">6</text>
<line x1="413.50" y1="205.30" x2="413.50" y2="206.30" stroke="#555" stroke-width="0.35"/>
<text x="413.00" y="209.40" font-size="2.7" font-family='"Liberation Sans", sans-serif' font-weight="bold" text-anchor="middle" fill="#333" stroke="#333" stroke-width="0.1">12</text>
<line x1="422.50" y1="205.30" x2="422.50" y2="206.30" stroke="#555" stroke-width="0.35"/>
<text x="422.20" y="209.40" font-size="2.7" font-family='"Liberation Sans", sans-serif' font-weight="bold" text-anchor="middle" fill="#333" stroke="#333" stroke-width="0.1">18</text>
<line x1="431.50" y1="205.30" x2="431.50" y2="206.30" stroke="#555" stroke-width="0.35"/>
<text x="431.40" y="209.40" font-size="2.7" font-family='"Liberation Sans", sans-serif' font-weight="bold" text-anchor="middle" fill="#333" stroke="#333" stroke-width="0.1">24</text>
<line x1="440.50" y1="205.30" x2="440.50" y2="206.30" stroke="#555" stroke-width="0.35"/>
<text x="440.60" y="209.40" font-size="2.7" font-family='"Liberation Sans", sans-serif' font-weight="bold" text-anchor="middle" fill="#333" stroke="#333" stroke-width="0.1">30</text>
<line x1="449.50" y1="205.30" x2="449.50" y2="206.30" stroke="#555" stroke-width="0.35"/>
<text x="449.80" y="209.40" font-size="2.7" font-family='"Liberation Sans", sans-serif' font-weight="bold" text-anchor="middle" fill="#333" stroke="#333" stroke-width="0.1">36</text>
<line x1="459.50" y1="205.30" x2="459.50" y2="206.30" stroke="#555" stroke-width="0.35"/>
<text x="459.00" y="209.40" font-size="2.7" font-family='"Liberation Sans", sans-serif' font-weight="bold" text-anchor="middle" fill="#333" stroke="#333" stroke-width="0.1">42</text>
<line x1="468.50" y1="205.30" x2="468.50" y2="206.30" stroke="#555" stroke-width="0.35"/>
<text x="468.20" y="209.40" font-size="2.7" font-family='"Liberation Sans", sans-serif' font-weight="bold" text-anchor="middle" fill="#333" stroke="#333" stroke-width="0.1">48</text>
<line x1="477.50" y1="205.30" x2="477.50" y2="206.30" stroke="#555" stroke-width="0.35"/>
<text x="477.40" y="209.40" font-size="2.7" font-family='"Liberation Sans", sans-serif' font-weight="bold" text-anchor="middle" fill="#333" stroke="#333" stroke-width="0.1">54</text>
<line x1="486.50" y1="205.30" x2="486.50" y2="206.30" stroke="#555" stroke-width="0.35"/>
<text x="486.60" y="209.40" font-size="2.7" font-family='"Liberation Sans", sans-serif' font-weight="bold" text-anchor="middle" fill="#333" stroke="#333" stroke-width="0.1">60</text>
<text x="388.30" y="161.00" font-size="3.0" font-family='"Liberation Sans", sans-serif' font-weight="bold" text-anchor="middle" fill="#222" transform="rotate(-90 388.30 161.00)" stroke="#222" stroke-width="0.1">EFS</text>
<path d="M394.70 138.60 L401.20 138.60 L401.20 140.40 L406.00 140.40 L406.00 143.00 L408.30 143.00 L408.30 158.00 L410.70 158.00 L410.70 161.00 L414.20 161.00 L414.20 164.00 L428.90 164.00 L428.90 167.50 L431.40 167.50 L431.40 171.20 L458.90 171.20 L458.90 176.10 L462.70 176.10 L462.70 182.60 L487.10 182.60 L487.10 182.60" fill="none" stroke="#e03a3a" stroke-width="0.55"/>
<path d="M394.70 138.60 L396.00 138.60 L396.00 141.00 L397.70 141.00 L397.70 145.00 L399.00 145.00 L399.00 148.50 L400.60 148.50 L400.60 152.70 L404.80 152.70 L404.80 155.70 L408.30 155.70 L408.30 157.50 L414.80 157.50 L414.80 159.90 L456.10 159.90 L456.10 163.50 L487.10 163.50 L487.10 163.50" fill="none" stroke="#4a4ae0" stroke-width="0.55"/>
<line x1="446.70" y1="135.50" x2="449.50" y2="135.50" stroke="#e03a3a" stroke-width="0.5"/>
<text x="451.80" y="136.40" font-size="2.8" font-family='"Liberation Sans", sans-serif' font-weight="bold" fill="#444" textLength="13" lengthAdjust="spacingAndGlyphs" stroke="#444" stroke-width="0.1">IST, n=27</text>
<line x1="468.60" y1="135.50" x2="471.40" y2="135.50" stroke="#4a4ae0" stroke-width="0.5"/>
<text x="473.50" y="136.40" font-size="2.8" font-family='"Liberation Sans", sans-serif' font-weight="bold" fill="#444" textLength="17" lengthAdjust="spacingAndGlyphs" stroke="#444" stroke-width="0.1">HSCT, n=28</text>
<text x="447.00" y="143.30" font-size="3.0" font-family='"Liberation Sans", sans-serif' font-weight="bold" fill="#222" textLength="24" lengthAdjust="spacingAndGlyphs" stroke="#222" stroke-width="0.1">Log-rank P=0.2977</text>
<text x="447.00" y="148.50" font-size="3.0" font-family='"Liberation Sans", sans-serif' font-weight="bold" fill="#222" textLength="31.5" lengthAdjust="spacingAndGlyphs" stroke="#222" stroke-width="0.1">HR=1.561 (0.682-3.575)</text>
<text x="376.20" y="215.20" font-size="3.0" font-family='"Liberation Sans", sans-serif' font-weight="bold" fill="#333" textLength="12.3" lengthAdjust="spacingAndGlyphs" stroke="#333" stroke-width="0.1">No. at risk</text>
<text x="440.80" y="215.20" font-size="3.2" font-family='"Liberation Sans", sans-serif' font-weight="bold" text-anchor="middle" fill="#333" textLength="11.2" lengthAdjust="spacingAndGlyphs" stroke="#333" stroke-width="0.1">months</text>
<text x="376.20" y="220.70" font-size="3.0" font-family='"Liberation Sans", sans-serif' font-weight="bold" fill="#333" stroke="#333" stroke-width="0.1">IST</text>
<text x="376.20" y="225.70" font-size="3.0" font-family='"Liberation Sans", sans-serif' font-weight="bold" fill="#333" stroke="#333" stroke-width="0.1">HSCT</text>
<text x="394.60" y="220.70" font-size="3.0" font-family='"Liberation Sans", sans-serif' font-weight="bold" text-anchor="middle" fill="#333" stroke="#333" stroke-width="0.1">27</text>
<text x="394.60" y="225.70" font-size="3.0" font-family='"Liberation Sans", sans-serif' font-weight="bold" text-anchor="middle" fill="#333" stroke="#333" stroke-width="0.1">28</text>
<text x="403.80" y="220.70" font-size="3.0" font-family='"Liberation Sans", sans-serif' font-weight="bold" text-anchor="middle" fill="#333" stroke="#333" stroke-width="0.1">26</text>
<text x="403.80" y="225.70" font-size="3.0" font-family='"Liberation Sans", sans-serif' font-weight="bold" text-anchor="middle" fill="#333" stroke="#333" stroke-width="0.1">22</text>
<text x="413.00" y="220.70" font-size="3.0" font-family='"Liberation Sans", sans-serif' font-weight="bold" text-anchor="middle" fill="#333" stroke="#333" stroke-width="0.1">21</text>
<text x="413.00" y="225.70" font-size="3.0" font-family='"Liberation Sans", sans-serif' font-weight="bold" text-anchor="middle" fill="#333" stroke="#333" stroke-width="0.1">24</text>
<text x="422.20" y="220.70" font-size="3.0" font-family='"Liberation Sans", sans-serif' font-weight="bold" text-anchor="middle" fill="#333" stroke="#333" stroke-width="0.1">14</text>
<text x="422.20" y="225.70" font-size="3.0" font-family='"Liberation Sans", sans-serif' font-weight="bold" text-anchor="middle" fill="#333" stroke="#333" stroke-width="0.1">18</text>
<text x="431.40" y="220.70" font-size="3.0" font-family='"Liberation Sans", sans-serif' font-weight="bold" text-anchor="middle" fill="#333" stroke="#333" stroke-width="0.1">18</text>
<text x="431.40" y="225.70" font-size="3.0" font-family='"Liberation Sans", sans-serif' font-weight="bold" text-anchor="middle" fill="#333" stroke="#333" stroke-width="0.1">16</text>
<text x="440.60" y="220.70" font-size="3.0" font-family='"Liberation Sans", sans-serif' font-weight="bold" text-anchor="middle" fill="#333" stroke="#333" stroke-width="0.1">9</text>
<text x="440.60" y="225.70" font-size="3.0" font-family='"Liberation Sans", sans-serif' font-weight="bold" text-anchor="middle" fill="#333" stroke="#333" stroke-width="0.1">17</text>
<text x="449.80" y="220.70" font-size="3.0" font-family='"Liberation Sans", sans-serif' font-weight="bold" text-anchor="middle" fill="#333" stroke="#333" stroke-width="0.1">9</text>
<text x="449.80" y="225.70" font-size="3.0" font-family='"Liberation Sans", sans-serif' font-weight="bold" text-anchor="middle" fill="#333" stroke="#333" stroke-width="0.1">13</text>
<text x="459.00" y="220.70" font-size="3.0" font-family='"Liberation Sans", sans-serif' font-weight="bold" text-anchor="middle" fill="#333" stroke="#333" stroke-width="0.1">5</text>
<text x="459.00" y="225.70" font-size="3.0" font-family='"Liberation Sans", sans-serif' font-weight="bold" text-anchor="middle" fill="#333" stroke="#333" stroke-width="0.1">11</text>
<text x="468.20" y="220.70" font-size="3.0" font-family='"Liberation Sans", sans-serif' font-weight="bold" text-anchor="middle" fill="#333" stroke="#333" stroke-width="0.1">5</text>
<text x="468.20" y="225.70" font-size="3.0" font-family='"Liberation Sans", sans-serif' font-weight="bold" text-anchor="middle" fill="#333" stroke="#333" stroke-width="0.1">10</text>
<text x="477.40" y="220.70" font-size="3.0" font-family='"Liberation Sans", sans-serif' font-weight="bold" text-anchor="middle" fill="#333" stroke="#333" stroke-width="0.1">4</text>
<text x="477.40" y="225.70" font-size="3.0" font-family='"Liberation Sans", sans-serif' font-weight="bold" text-anchor="middle" fill="#333" stroke="#333" stroke-width="0.1">9</text>
<text x="486.60" y="220.70" font-size="3.0" font-family='"Liberation Sans", sans-serif' font-weight="bold" text-anchor="middle" fill="#333" stroke="#333" stroke-width="0.1">4</text>
<text x="486.60" y="225.70" font-size="3.0" font-family='"Liberation Sans", sans-serif' font-weight="bold" text-anchor="middle" fill="#333" stroke="#333" stroke-width="0.1">9</text>
<text x="249.00" y="243.60" font-size="5.2" font-family='"Liberation Sans", sans-serif' font-weight="bold" fill="#444" stroke="#444" stroke-width="0.1">E</text>
<text x="259.40" y="248.50" font-size="2.9" font-family='"Liberation Sans", sans-serif' fill="#555" textLength="14.2" lengthAdjust="spacingAndGlyphs">Subgroup/cut-off</text>
<text x="259.40" y="251.20" font-size="2.9" font-family='"Liberation Sans", sans-serif' fill="#555" transform="matrix(0.72 0 0 1 72.632 0)">Factor</text>
<text x="282.00" y="249.10" font-size="2.9" font-family='"Liberation Sans", sans-serif' fill="#555" textLength="13.4" lengthAdjust="spacingAndGlyphs">No. of events/</text>
<text x="282.00" y="251.80" font-size="2.9" font-family='"Liberation Sans", sans-serif' fill="#555" textLength="13.4" lengthAdjust="spacingAndGlyphs">No. of patients</text>
<text x="341.30" y="248.20" font-size="2.9" font-family='"Liberation Sans", sans-serif' fill="#555" textLength="15.2" lengthAdjust="spacingAndGlyphs">Hazard ratio for</text>
<text x="341.30" y="250.90" font-size="2.9" font-family='"Liberation Sans", sans-serif' fill="#555" textLength="15.2" lengthAdjust="spacingAndGlyphs">probability (95% CI)</text>
<line x1="258.50" y1="253.50" x2="370.30" y2="253.50" stroke="#bbb" stroke-width="0.4"/>
<line x1="320.50" y1="253.30" x2="320.50" y2="358.20" stroke="#222" stroke-width="0.8"/>
<line x1="258.80" y1="355.50" x2="369.00" y2="355.50" stroke="#333" stroke-width="0.8"/>
<line x1="283.50" y1="355.20" x2="283.50" y2="356.50" stroke="#555" stroke-width="0.35"/>
<text x="283.40" y="359.00" font-size="2.2" font-family='"Liberation Sans", sans-serif' text-anchor="middle" fill="#555" stroke="#555" stroke-width="0.1">0.01</text>
<line x1="301.50" y1="355.20" x2="301.50" y2="356.50" stroke="#555" stroke-width="0.35"/>
<text x="301.90" y="359.00" font-size="2.2" font-family='"Liberation Sans", sans-serif' text-anchor="middle" fill="#555" stroke="#555" stroke-width="0.1">0.1</text>
<line x1="320.50" y1="355.20" x2="320.50" y2="356.50" stroke="#555" stroke-width="0.35"/>
<text x="320.40" y="359.00" font-size="2.2" font-family='"Liberation Sans", sans-serif' text-anchor="middle" fill="#555" stroke="#555" stroke-width="0.1">1</text>
<line x1="338.50" y1="355.20" x2="338.50" y2="356.50" stroke="#555" stroke-width="0.35"/>
<text x="338.80" y="359.00" font-size="2.2" font-family='"Liberation Sans", sans-serif' text-anchor="middle" fill="#555" stroke="#555" stroke-width="0.1">10</text>
<text x="289.80" y="366.80" font-size="6.0" font-family='"Liberation Sans", sans-serif' text-anchor="middle" fill="#333" textLength="8.2" lengthAdjust="spacingAndGlyphs" stroke="#333" stroke-width="0.1">IST</text>
<text x="310.30" y="366.80" font-size="5.0" font-family='"Liberation Sans", sans-serif' text-anchor="middle" fill="#333" textLength="5.4" lengthAdjust="spacingAndGlyphs" stroke="#333" stroke-width="0.1">vs.</text>
<text x="335.00" y="366.80" font-size="6.0" font-family='"Liberation Sans", sans-serif' text-anchor="middle" fill="#333" textLength="13.2" lengthAdjust="spacingAndGlyphs" stroke="#333" stroke-width="0.1">HSCT</text>
<text x="259.60" y="256.40" font-size="2.9" font-family='"Liberation Sans", sans-serif' fill="#555" transform="matrix(0.72 0 0 1 72.688 0)">Total</text>
<text x="259.60" y="259.60" font-size="2.9" font-family='"Liberation Sans", sans-serif' fill="#555" transform="matrix(0.72 0 0 1 72.688 0)">OS</text>
<text x="283.20" y="259.20" font-size="2.9" font-family='"Liberation Sans", sans-serif' fill="#555" transform="matrix(0.72 0 0 1 79.296 0)">28/55</text>
<text x="341.30" y="259.50" font-size="2.9" font-family='"Liberation Sans", sans-serif' fill="#555" transform="matrix(0.72 0 0 1 95.564 0)">0.68 (0.35-1.08)</text>
<line x1="310.00" y1="258.50" x2="323.60" y2="258.50" stroke="#555" stroke-width="0.6"/>
<circle cx="316.90" cy="258.60" r="1.35" fill="#111"/>
<text x="259.60" y="265.20" font-size="2.9" font-family='"Liberation Sans", sans-serif' fill="#555" transform="matrix(0.72 0 0 1 72.688 0)">Age</text>
<text x="259.60" y="267.80" font-size="2.9" font-family='"Liberation Sans", sans-serif' fill="#555" transform="matrix(0.72 0 0 1 72.688 0)">≤28yr</text>
<text x="283.20" y="267.80" font-size="2.9" font-family='"Liberation Sans", sans-serif' fill="#555" transform="matrix(0.72 0 0 1 79.296 0)">14/25</text>
<text x="341.30" y="267.80" font-size="2.9" font-family='"Liberation Sans", sans-serif' fill="#555" transform="matrix(0.72 0 0 1 95.564 0)">0.57 (0.22-1.48)</text>
<line x1="304.20" y1="266.50" x2="324.20" y2="266.50" stroke="#555" stroke-width="0.6"/>
<circle cx="314.20" cy="266.80" r="1.0" fill="#111"/>
<text x="259.60" y="270.80" font-size="2.9" font-family='"Liberation Sans", sans-serif' fill="#555" transform="matrix(0.72 0 0 1 72.688 0)">&gt;28yr</text>
<text x="283.20" y="270.80" font-size="2.9" font-family='"Liberation Sans", sans-serif' fill="#555" transform="matrix(0.72 0 0 1 79.296 0)">14/30</text>
<text x="341.30" y="270.80" font-size="2.9" font-family='"Liberation Sans", sans-serif' fill="#555" transform="matrix(0.72 0 0 1 95.564 0)">0.86 (0.32-2.29)</text>
<line x1="309.50" y1="269.50" x2="328.90" y2="269.50" stroke="#555" stroke-width="0.6"/>
<circle cx="319.50" cy="269.80" r="1.0" fill="#111"/>
<text x="259.60" y="275.90" font-size="2.9" font-family='"Liberation Sans", sans-serif' fill="#555" transform="matrix(0.72 0 0 1 72.688 0)">Disease duration</text>
<text x="259.60" y="278.90" font-size="2.9" font-family='"Liberation Sans", sans-serif' fill="#555" transform="matrix(0.72 0 0 1 72.688 0)">≤6m</text>
<text x="283.20" y="278.90" font-size="2.9" font-family='"Liberation Sans", sans-serif' fill="#555" transform="matrix(0.72 0 0 1 79.296 0)">9/17</text>
<text x="341.30" y="278.90" font-size="2.9" font-family='"Liberation Sans", sans-serif' fill="#555" transform="matrix(0.72 0 0 1 95.564 0)">2.01 (0.53-7.58)</text>
<line x1="298.80" y1="277.50" x2="333.60" y2="277.50" stroke="#555" stroke-width="0.6"/>
<circle cx="316.50" cy="277.90" r="1.0" fill="#111"/>
<text x="259.60" y="281.60" font-size="2.9" font-family='"Liberation Sans", sans-serif' fill="#555" transform="matrix(0.72 0 0 1 72.688 0)">6m&lt;dd≤24m</text>
<text x="283.20" y="281.60" font-size="2.9" font-family='"Liberation Sans", sans-serif' fill="#555" transform="matrix(0.72 0 0 1 79.296 0)">8/16</text>
<text x="341.30" y="281.60" font-size="2.9" font-family='"Liberation Sans", sans-serif' fill="#555" transform="matrix(0.72 0 0 1 95.564 0)">0.19 (0.06-0.66)</text>
<line x1="295.90" y1="280.50" x2="318.30" y2="280.50" stroke="#555" stroke-width="0.6"/>
<circle cx="307.10" cy="280.60" r="1.0" fill="#111"/>
<text x="259.60" y="284.40" font-size="2.9" font-family='"Liberation Sans", sans-serif' fill="#555" transform="matrix(0.72 0 0 1 72.688 0)">&gt;24m</text>
<text x="283.20" y="284.40" font-size="2.9" font-family='"Liberation Sans", sans-serif' fill="#555" transform="matrix(0.72 0 0 1 79.296 0)">11/22</text>
<text x="341.30" y="284.40" font-size="2.9" font-family='"Liberation Sans", sans-serif' fill="#555" transform="matrix(0.72 0 0 1 95.564 0)">1.25 (0.41-4.02)</text>
<line x1="311.80" y1="283.50" x2="333.00" y2="283.50" stroke="#555" stroke-width="0.6"/>
<circle cx="322.40" cy="283.40" r="1.0" fill="#111"/>
<text x="259.60" y="289.70" font-size="2.9" font-family='"Liberation Sans", sans-serif' fill="#555" transform="matrix(0.72 0 0 1 72.688 0)">ANC</text>
<text x="259.60" y="292.60" font-size="2.9" font-family='"Liberation Sans", sans-serif' fill="#555" transform="matrix(0.72 0 0 1 72.688 0)">&lt;1×10⁹/L</text>
<text x="283.20" y="292.60" font-size="2.9" font-family='"Liberation Sans", sans-serif' fill="#555" transform="matrix(0.72 0 0 1 79.296 0)">16/30</text>
<text x="341.30" y="292.60" font-size="2.9" font-family='"Liberation Sans", sans-serif' fill="#555" transform="matrix(0.72 0 0 1 95.564 0)">0.96 (0.38-2.42)</text>
<line x1="309.50" y1="291.50" x2="330.70" y2="291.50" stroke="#555" stroke-width="0.6"/>
<circle cx="320.00" cy="291.60" r="1.0" fill="#111"/>
<text x="259.60" y="295.50" font-size="2.9" font-family='"Liberation Sans", sans-serif' fill="#555" transform="matrix(0.72 0 0 1 72.688 0)">≥1×10⁹/L</text>
<text x="283.20" y="295.50" font-size="2.9" font-family='"Liberation Sans", sans-serif' fill="#555" transform="matrix(0.72 0 0 1 79.296 0)">12/25</text>
<text x="341.30" y="295.50" font-size="2.9" font-family='"Liberation Sans", sans-serif' fill="#555" transform="matrix(0.72 0 0 1 95.564 0)">0.46 (0.15-1.44)</text>
<line x1="304.20" y1="294.50" x2="321.30" y2="294.50" stroke="#555" stroke-width="0.6"/>
<circle cx="313.00" cy="294.50" r="1.0" fill="#111"/>
<text x="259.60" y="300.50" font-size="2.9" font-family='"Liberation Sans", sans-serif' fill="#555" transform="matrix(0.72 0 0 1 72.688 0)">Hb</text>
<text x="259.60" y="303.70" font-size="2.9" font-family='"Liberation Sans", sans-serif' fill="#555" transform="matrix(0.72 0 0 1 72.688 0)">&lt;70g/L</text>
<text x="283.20" y="303.70" font-size="2.9" font-family='"Liberation Sans", sans-serif' fill="#555" transform="matrix(0.72 0 0 1 79.296 0)">15/25</text>
<text x="341.30" y="303.70" font-size="2.9" font-family='"Liberation Sans", sans-serif' fill="#555" transform="matrix(0.72 0 0 1 95.564 0)">0.73 (0.32-1.68)</text>
<line x1="307.70" y1="302.50" x2="328.00" y2="302.50" stroke="#555" stroke-width="0.6"/>
<circle cx="317.90" cy="302.70" r="1.0" fill="#111"/>
<text x="259.60" y="306.60" font-size="2.9" font-family='"Liberation Sans", sans-serif' fill="#555" transform="matrix(0.72 0 0 1 72.688 0)">≥70g/L</text>
<text x="283.20" y="306.60" font-size="2.9" font-family='"Liberation Sans", sans-serif' fill="#555" transform="matrix(0.72 0 0 1 79.296 0)">13/26</text>
<text x="341.30" y="306.60" font-size="2.9" font-family='"Liberation Sans", sans-serif' fill="#555" transform="matrix(0.72 0 0 1 95.564 0)">0.69 (0.22-2.21)</text>
<line x1="307.10" y1="305.50" x2="326.60" y2="305.50" stroke="#555" stroke-width="0.6"/>
<circle cx="317.10" cy="305.60" r="1.0" fill="#111"/>
<text x="259.60" y="311.30" font-size="2.9" font-family='"Liberation Sans", sans-serif' fill="#555" transform="matrix(0.72 0 0 1 72.688 0)">Plt</text>
<text x="259.60" y="314.60" font-size="2.9" font-family='"Liberation Sans", sans-serif' fill="#555" transform="matrix(0.72 0 0 1 72.688 0)">&lt;10×10⁹/L</text>
<text x="283.20" y="314.60" font-size="2.9" font-family='"Liberation Sans", sans-serif' fill="#555" transform="matrix(0.72 0 0 1 79.296 0)">14/29</text>
<text x="341.30" y="314.60" font-size="2.9" font-family='"Liberation Sans", sans-serif' fill="#555" transform="matrix(0.72 0 0 1 95.564 0)">0.56 (0.23-1.37)</text>
<line x1="304.70" y1="313.50" x2="326.00" y2="313.50" stroke="#555" stroke-width="0.6"/>
<circle cx="315.40" cy="313.60" r="1.0" fill="#111"/>
<text x="259.60" y="317.60" font-size="2.9" font-family='"Liberation Sans", sans-serif' fill="#555" transform="matrix(0.72 0 0 1 72.688 0)">≥10×10⁹/L</text>
<text x="283.20" y="317.60" font-size="2.9" font-family='"Liberation Sans", sans-serif' fill="#555" transform="matrix(0.72 0 0 1 79.296 0)">12/23</text>
<text x="341.30" y="317.60" font-size="2.9" font-family='"Liberation Sans", sans-serif' fill="#555" transform="matrix(0.72 0 0 1 95.564 0)">0.76 (0.30-1.93)</text>
<line x1="308.90" y1="316.50" x2="325.40" y2="316.50" stroke="#555" stroke-width="0.6"/>
<circle cx="317.40" cy="316.60" r="1.0" fill="#111"/>
<text x="259.60" y="322.50" font-size="2.9" font-family='"Liberation Sans", sans-serif' fill="#555" transform="matrix(0.72 0 0 1 72.688 0)">Serum ferritin</text>
<text x="259.60" y="325.80" font-size="2.9" font-family='"Liberation Sans", sans-serif' fill="#555" transform="matrix(0.72 0 0 1 72.688 0)">&lt;1000ng/ml</text>
<text x="283.20" y="325.80" font-size="2.9" font-family='"Liberation Sans", sans-serif' fill="#555" transform="matrix(0.72 0 0 1 79.296 0)">16/32</text>
<text x="341.30" y="325.80" font-size="2.9" font-family='"Liberation Sans", sans-serif' fill="#555" transform="matrix(0.72 0 0 1 95.564 0)">0.95 (0.38-2.39)</text>
<line x1="309.80" y1="324.50" x2="328.90" y2="324.50" stroke="#555" stroke-width="0.6"/>
<circle cx="319.70" cy="324.80" r="1.0" fill="#111"/>
<text x="259.60" y="328.70" font-size="2.9" font-family='"Liberation Sans", sans-serif' fill="#555" transform="matrix(0.72 0 0 1 72.688 0)">≥1000ng/ml</text>
<text x="283.20" y="328.70" font-size="2.9" font-family='"Liberation Sans", sans-serif' fill="#555" transform="matrix(0.72 0 0 1 79.296 0)">10/21</text>
<text x="341.30" y="328.70" font-size="2.9" font-family='"Liberation Sans", sans-serif' fill="#555" transform="matrix(0.72 0 0 1 95.564 0)">0.49 (0.16-1.47)</text>
<line x1="305.30" y1="327.50" x2="324.20" y2="327.50" stroke="#555" stroke-width="0.6"/>
<circle cx="314.80" cy="327.70" r="1.0" fill="#111"/>
<text x="259.60" y="333.50" font-size="2.9" font-family='"Liberation Sans", sans-serif' fill="#555" transform="matrix(0.72 0 0 1 72.688 0)">Lymphocyte%</text>
<text x="259.60" y="336.90" font-size="2.9" font-family='"Liberation Sans", sans-serif' fill="#555" transform="matrix(0.72 0 0 1 72.688 0)">&lt;60%</text>
<text x="283.20" y="336.90" font-size="2.9" font-family='"Liberation Sans", sans-serif' fill="#555" transform="matrix(0.72 0 0 1 79.296 0)">18/34</text>
<text x="341.30" y="336.90" font-size="2.9" font-family='"Liberation Sans", sans-serif' fill="#555" transform="matrix(0.72 0 0 1 95.564 0)">0.40 (0.17-1.00)</text>
<line x1="302.40" y1="335.50" x2="323.00" y2="335.50" stroke="#555" stroke-width="0.6"/>
<circle cx="312.80" cy="335.90" r="1.0" fill="#111"/>
<text x="259.60" y="339.90" font-size="2.9" font-family='"Liberation Sans", sans-serif' fill="#555" transform="matrix(0.72 0 0 1 72.688 0)">≥60%</text>
<text x="283.20" y="339.90" font-size="2.9" font-family='"Liberation Sans", sans-serif' fill="#555" transform="matrix(0.72 0 0 1 79.296 0)">11/23</text>
<text x="341.30" y="339.90" font-size="2.9" font-family='"Liberation Sans", sans-serif' fill="#555" transform="matrix(0.72 0 0 1 95.564 0)">0.92 (0.33-2.55)</text>
<line x1="308.90" y1="338.50" x2="328.00" y2="338.50" stroke="#555" stroke-width="0.6"/>
<circle cx="318.50" cy="338.90" r="1.0" fill="#111"/>
<text x="259.60" y="344.70" font-size="2.9" font-family='"Liberation Sans", sans-serif' fill="#555" transform="matrix(0.72 0 0 1 72.688 0)">CD4(+)/CD8(+) T cell</text>
<text x="259.60" y="347.90" font-size="2.9" font-family='"Liberation Sans", sans-serif' fill="#555" transform="matrix(0.72 0 0 1 72.688 0)">&lt;1.5</text>
<text x="283.20" y="347.90" font-size="2.9" font-family='"Liberation Sans", sans-serif' fill="#555" transform="matrix(0.72 0 0 1 79.296 0)">17/32</text>
<text x="341.30" y="347.90" font-size="2.9" font-family='"Liberation Sans", sans-serif' fill="#555" transform="matrix(0.72 0 0 1 95.564 0)">0.55 (0.22-1.39)</text>
<line x1="306.50" y1="346.50" x2="322.80" y2="346.50" stroke="#555" stroke-width="0.6"/>
<circle cx="314.80" cy="346.90" r="1.0" fill="#111"/>
<text x="259.60" y="350.80" font-size="2.9" font-family='"Liberation Sans", sans-serif' fill="#555" transform="matrix(0.72 0 0 1 72.688 0)">≥1.5</text>
<text x="283.20" y="350.80" font-size="2.9" font-family='"Liberation Sans", sans-serif' fill="#555" transform="matrix(0.72 0 0 1 79.296 0)">13/27</text>
<text x="341.30" y="350.80" font-size="2.9" font-family='"Liberation Sans", sans-serif' fill="#555" transform="matrix(0.72 0 0 1 95.564 0)">1.36 (0.43-4.27)</text>
<line x1="310.60" y1="349.50" x2="337.20" y2="349.50" stroke="#555" stroke-width="0.6"/>
<circle cx="324.20" cy="349.80" r="1.0" fill="#111"/>
<text x="249.00" y="378.20" font-size="5.2" font-family='"Liberation Sans", sans-serif' font-weight="bold" fill="#444" stroke="#444" stroke-width="0.1">G</text>
<text x="259.40" y="384.80" font-size="2.9" font-family='"Liberation Sans", sans-serif' fill="#555" textLength="14.2" lengthAdjust="spacingAndGlyphs">Subgroup/cut-off</text>
<text x="259.40" y="387.50" font-size="2.9" font-family='"Liberation Sans", sans-serif' fill="#555" transform="matrix(0.72 0 0 1 72.632 0)">Factor</text>
<text x="282.00" y="385.40" font-size="2.9" font-family='"Liberation Sans", sans-serif' fill="#555" textLength="13.4" lengthAdjust="spacingAndGlyphs">No. of events/</text>
<text x="282.00" y="388.10" font-size="2.9" font-family='"Liberation Sans", sans-serif' fill="#555" textLength="13.4" lengthAdjust="spacingAndGlyphs">No. of patients</text>
<text x="341.30" y="384.50" font-size="2.9" font-family='"Liberation Sans", sans-serif' fill="#555" textLength="15.2" lengthAdjust="spacingAndGlyphs">Hazard ratio for</text>
<text x="341.30" y="387.20" font-size="2.9" font-family='"Liberation Sans", sans-serif' fill="#555" textLength="15.2" lengthAdjust="spacingAndGlyphs">probability (95% CI)</text>
<line x1="258.50" y1="390.50" x2="370.30" y2="390.50" stroke="#bbb" stroke-width="0.4"/>
<line x1="318.50" y1="390.00" x2="318.50" y2="499.40" stroke="#222" stroke-width="0.8"/>
<line x1="258.80" y1="496.50" x2="369.00" y2="496.50" stroke="#333" stroke-width="0.8"/>
<line x1="281.50" y1="496.40" x2="281.50" y2="497.70" stroke="#555" stroke-width="0.35"/>
<text x="281.30" y="500.20" font-size="2.2" font-family='"Liberation Sans", sans-serif' text-anchor="middle" fill="#555" stroke="#555" stroke-width="0.1">0.01</text>
<line x1="299.50" y1="496.40" x2="299.50" y2="497.70" stroke="#555" stroke-width="0.35"/>
<text x="299.80" y="500.20" font-size="2.2" font-family='"Liberation Sans", sans-serif' text-anchor="middle" fill="#555" stroke="#555" stroke-width="0.1">0.1</text>
<line x1="318.50" y1="496.40" x2="318.50" y2="497.70" stroke="#555" stroke-width="0.35"/>
<text x="318.30" y="500.20" font-size="2.2" font-family='"Liberation Sans", sans-serif' text-anchor="middle" fill="#555" stroke="#555" stroke-width="0.1">1</text>
<line x1="336.50" y1="496.40" x2="336.50" y2="497.70" stroke="#555" stroke-width="0.35"/>
<text x="336.70" y="500.20" font-size="2.2" font-family='"Liberation Sans", sans-serif' text-anchor="middle" fill="#555" stroke="#555" stroke-width="0.1">10</text>
<text x="289.80" y="508.30" font-size="6.0" font-family='"Liberation Sans", sans-serif' text-anchor="middle" fill="#333" textLength="8.2" lengthAdjust="spacingAndGlyphs" stroke="#333" stroke-width="0.1">IST</text>
<text x="310.30" y="508.30" font-size="5.0" font-family='"Liberation Sans", sans-serif' text-anchor="middle" fill="#333" textLength="5.4" lengthAdjust="spacingAndGlyphs" stroke="#333" stroke-width="0.1">vs.</text>
<text x="335.00" y="508.30" font-size="6.0" font-family='"Liberation Sans", sans-serif' text-anchor="middle" fill="#333" textLength="13.2" lengthAdjust="spacingAndGlyphs" stroke="#333" stroke-width="0.1">HSCT</text>
<text x="259.60" y="393.20" font-size="2.9" font-family='"Liberation Sans", sans-serif' fill="#555" transform="matrix(0.72 0 0 1 72.688 0)">Total</text>
<text x="259.60" y="396.40" font-size="2.9" font-family='"Liberation Sans", sans-serif' fill="#555" transform="matrix(0.72 0 0 1 72.688 0)">EFS</text>
<text x="283.20" y="396.00" font-size="2.9" font-family='"Liberation Sans", sans-serif' fill="#555" transform="matrix(0.72 0 0 1 79.296 0)">28/55</text>
<text x="341.30" y="396.30" font-size="2.9" font-family='"Liberation Sans", sans-serif' fill="#555" transform="matrix(0.72 0 0 1 95.564 0)">0.81 (0.58-1.66)</text>
<line x1="310.00" y1="395.50" x2="325.40" y2="395.50" stroke="#555" stroke-width="0.6"/>
<circle cx="318.10" cy="395.40" r="1.35" fill="#111"/>
<text x="259.60" y="401.80" font-size="2.9" font-family='"Liberation Sans", sans-serif' fill="#555" transform="matrix(0.72 0 0 1 72.688 0)">Age</text>
<text x="259.60" y="404.90" font-size="2.9" font-family='"Liberation Sans", sans-serif' fill="#555" transform="matrix(0.72 0 0 1 72.688 0)">≤28yr</text>
<text x="283.20" y="404.90" font-size="2.9" font-family='"Liberation Sans", sans-serif' fill="#555" transform="matrix(0.72 0 0 1 79.296 0)">14/25</text>
<text x="341.30" y="404.90" font-size="2.9" font-family='"Liberation Sans", sans-serif' fill="#555" transform="matrix(0.72 0 0 1 95.564 0)">0.83 (0.26-2.66)</text>
<line x1="303.00" y1="403.50" x2="325.40" y2="403.50" stroke="#555" stroke-width="0.6"/>
<circle cx="314.40" cy="403.90" r="1.0" fill="#111"/>
<text x="259.60" y="407.80" font-size="2.9" font-family='"Liberation Sans", sans-serif' fill="#555" transform="matrix(0.72 0 0 1 72.688 0)">&gt;28yr</text>
<text x="283.20" y="407.80" font-size="2.9" font-family='"Liberation Sans", sans-serif' fill="#555" transform="matrix(0.72 0 0 1 79.296 0)">14/30</text>
<text x="341.30" y="407.80" font-size="2.9" font-family='"Liberation Sans", sans-serif' fill="#555" transform="matrix(0.72 0 0 1 95.564 0)">1.08 (0.41-2.84)</text>
<line x1="308.90" y1="406.50" x2="331.90" y2="406.50" stroke="#555" stroke-width="0.6"/>
<circle cx="320.90" cy="406.80" r="1.0" fill="#111"/>
<text x="259.60" y="413.30" font-size="2.9" font-family='"Liberation Sans", sans-serif' fill="#555" transform="matrix(0.72 0 0 1 72.688 0)">Disease duration</text>
<text x="259.60" y="416.70" font-size="2.9" font-family='"Liberation Sans", sans-serif' fill="#555" transform="matrix(0.72 0 0 1 72.688 0)">≤6m</text>
<text x="283.20" y="416.70" font-size="2.9" font-family='"Liberation Sans", sans-serif' fill="#555" transform="matrix(0.72 0 0 1 79.296 0)">9/17</text>
<text x="341.30" y="416.70" font-size="2.9" font-family='"Liberation Sans", sans-serif' fill="#555" transform="matrix(0.72 0 0 1 95.564 0)">0.76 (0.26-2.19)</text>
<line x1="305.30" y1="415.50" x2="326.60" y2="415.50" stroke="#555" stroke-width="0.6"/>
<circle cx="316.20" cy="415.70" r="1.0" fill="#111"/>
<text x="259.60" y="419.40" font-size="2.9" font-family='"Liberation Sans", sans-serif' fill="#555" transform="matrix(0.72 0 0 1 72.688 0)">6m&lt;dd≤24m</text>
<text x="283.20" y="419.40" font-size="2.9" font-family='"Liberation Sans", sans-serif' fill="#555" transform="matrix(0.72 0 0 1 79.296 0)">8/16</text>
<text x="341.30" y="419.40" font-size="2.9" font-family='"Liberation Sans", sans-serif' fill="#555" transform="matrix(0.72 0 0 1 95.564 0)">0.56 (0.17-1.86)</text>
<line x1="299.40" y1="418.50" x2="324.20" y2="418.50" stroke="#555" stroke-width="0.6"/>
<circle cx="311.80" cy="418.40" r="1.0" fill="#111"/>
<text x="259.60" y="422.30" font-size="2.9" font-family='"Liberation Sans", sans-serif' fill="#555" transform="matrix(0.72 0 0 1 72.688 0)">&gt;24m</text>
<text x="283.20" y="422.30" font-size="2.9" font-family='"Liberation Sans", sans-serif' fill="#555" transform="matrix(0.72 0 0 1 79.296 0)">11/22</text>
<text x="341.30" y="422.30" font-size="2.9" font-family='"Liberation Sans", sans-serif' fill="#555" transform="matrix(0.72 0 0 1 95.564 0)">1.09 (0.40-2.95)</text>
<line x1="307.10" y1="421.50" x2="331.30" y2="421.50" stroke="#555" stroke-width="0.6"/>
<circle cx="318.90" cy="421.30" r="1.0" fill="#111"/>
<text x="259.60" y="428.00" font-size="2.9" font-family='"Liberation Sans", sans-serif' fill="#555" transform="matrix(0.72 0 0 1 72.688 0)">ANC</text>
<text x="259.60" y="431.00" font-size="2.9" font-family='"Liberation Sans", sans-serif' fill="#555" transform="matrix(0.72 0 0 1 72.688 0)">&lt;1×10⁹/L</text>
<text x="283.20" y="431.00" font-size="2.9" font-family='"Liberation Sans", sans-serif' fill="#555" transform="matrix(0.72 0 0 1 79.296 0)">16/30</text>
<text x="341.30" y="431.00" font-size="2.9" font-family='"Liberation Sans", sans-serif' fill="#555" transform="matrix(0.72 0 0 1 95.564 0)">4.01 (1.06-15.16)</text>
<line x1="312.40" y1="430.50" x2="338.90" y2="430.50" stroke="#555" stroke-width="0.6"/>
<circle cx="326.00" cy="430.00" r="1.0" fill="#111"/>
<text x="259.60" y="433.80" font-size="2.9" font-family='"Liberation Sans", sans-serif' fill="#555" transform="matrix(0.72 0 0 1 72.688 0)">≥1×10⁹/L</text>
<text x="283.20" y="433.80" font-size="2.9" font-family='"Liberation Sans", sans-serif' fill="#555" transform="matrix(0.72 0 0 1 79.296 0)">12/25</text>
<text x="341.30" y="433.80" font-size="2.9" font-family='"Liberation Sans", sans-serif' fill="#555" transform="matrix(0.72 0 0 1 95.564 0)">0.29 (0.09-0.91)</text>
<line x1="300.00" y1="432.50" x2="320.90" y2="432.50" stroke="#555" stroke-width="0.6"/>
<circle cx="310.60" cy="432.80" r="1.0" fill="#111"/>
<text x="259.60" y="439.50" font-size="2.9" font-family='"Liberation Sans", sans-serif' fill="#555" transform="matrix(0.72 0 0 1 72.688 0)">Hb</text>
<text x="259.60" y="442.50" font-size="2.9" font-family='"Liberation Sans", sans-serif' fill="#555" transform="matrix(0.72 0 0 1 72.688 0)">&lt;70g/L</text>
<text x="283.20" y="442.50" font-size="2.9" font-family='"Liberation Sans", sans-serif' fill="#555" transform="matrix(0.72 0 0 1 79.296 0)">15/25</text>
<text x="341.30" y="442.50" font-size="2.9" font-family='"Liberation Sans", sans-serif' fill="#555" transform="matrix(0.72 0 0 1 95.564 0)">1.03 (0.37-2.87)</text>
<line x1="307.70" y1="441.50" x2="329.50" y2="441.50" stroke="#555" stroke-width="0.6"/>
<circle cx="318.90" cy="441.50" r="1.0" fill="#111"/>
<text x="259.60" y="445.20" font-size="2.9" font-family='"Liberation Sans", sans-serif' fill="#555" transform="matrix(0.72 0 0 1 72.688 0)">≥70g/L</text>
<text x="283.20" y="445.20" font-size="2.9" font-family='"Liberation Sans", sans-serif' fill="#555" transform="matrix(0.72 0 0 1 79.296 0)">13/26</text>
<text x="341.30" y="445.20" font-size="2.9" font-family='"Liberation Sans", sans-serif' fill="#555" transform="matrix(0.72 0 0 1 95.564 0)">1.03 (0.37-2.87)</text>
<line x1="307.10" y1="444.50" x2="331.00" y2="444.50" stroke="#555" stroke-width="0.6"/>
<circle cx="318.90" cy="444.20" r="1.0" fill="#111"/>
<text x="259.60" y="451.00" font-size="2.9" font-family='"Liberation Sans", sans-serif' fill="#555" transform="matrix(0.72 0 0 1 72.688 0)">Plt</text>
<text x="259.60" y="454.00" font-size="2.9" font-family='"Liberation Sans", sans-serif' fill="#555" transform="matrix(0.72 0 0 1 72.688 0)">&lt;10×10⁹/L</text>
<text x="283.20" y="454.00" font-size="2.9" font-family='"Liberation Sans", sans-serif' fill="#555" transform="matrix(0.72 0 0 1 79.296 0)">14/29</text>
<text x="341.30" y="454.00" font-size="2.9" font-family='"Liberation Sans", sans-serif' fill="#555" transform="matrix(0.72 0 0 1 95.564 0)">0.77 (0.26-2.27)</text>
<line x1="304.20" y1="453.50" x2="328.90" y2="453.50" stroke="#555" stroke-width="0.6"/>
<circle cx="316.50" cy="453.00" r="1.0" fill="#111"/>
<text x="259.60" y="457.00" font-size="2.9" font-family='"Liberation Sans", sans-serif' fill="#555" transform="matrix(0.72 0 0 1 72.688 0)">≥10×10⁹/L</text>
<text x="283.20" y="457.00" font-size="2.9" font-family='"Liberation Sans", sans-serif' fill="#555" transform="matrix(0.72 0 0 1 79.296 0)">12/23</text>
<text x="341.30" y="457.00" font-size="2.9" font-family='"Liberation Sans", sans-serif' fill="#555" transform="matrix(0.72 0 0 1 95.564 0)">1.01 (0.35-2.91)</text>
<line x1="308.90" y1="456.50" x2="328.30" y2="456.50" stroke="#555" stroke-width="0.6"/>
<circle cx="318.90" cy="456.00" r="1.0" fill="#111"/>
<text x="259.60" y="462.50" font-size="2.9" font-family='"Liberation Sans", sans-serif' fill="#555" transform="matrix(0.72 0 0 1 72.688 0)">Serum ferritin</text>
<text x="259.60" y="465.50" font-size="2.9" font-family='"Liberation Sans", sans-serif' fill="#555" transform="matrix(0.72 0 0 1 72.688 0)">&lt;1000ng/ml</text>
<text x="283.20" y="465.50" font-size="2.9" font-family='"Liberation Sans", sans-serif' fill="#555" transform="matrix(0.72 0 0 1 79.296 0)">16/32</text>
<text x="341.30" y="465.50" font-size="2.9" font-family='"Liberation Sans", sans-serif' fill="#555" transform="matrix(0.72 0 0 1 95.564 0)">1.61 (0.50-5.19)</text>
<line x1="307.50" y1="464.50" x2="335.80" y2="464.50" stroke="#555" stroke-width="0.6"/>
<circle cx="321.60" cy="464.50" r="1.0" fill="#111"/>
<text x="259.60" y="468.40" font-size="2.9" font-family='"Liberation Sans", sans-serif' fill="#555" transform="matrix(0.72 0 0 1 72.688 0)">≥1000ng/ml</text>
<text x="283.20" y="468.40" font-size="2.9" font-family='"Liberation Sans", sans-serif' fill="#555" transform="matrix(0.72 0 0 1 79.296 0)">10/21</text>
<text x="341.30" y="468.40" font-size="2.9" font-family='"Liberation Sans", sans-serif' fill="#555" transform="matrix(0.72 0 0 1 95.564 0)">0.68 (0.24-1.93)</text>
<line x1="305.90" y1="467.50" x2="324.80" y2="467.50" stroke="#555" stroke-width="0.6"/>
<circle cx="315.70" cy="467.40" r="1.0" fill="#111"/>
<text x="259.60" y="474.00" font-size="2.9" font-family='"Liberation Sans", sans-serif' fill="#555" transform="matrix(0.72 0 0 1 72.688 0)">Lymphocyte%</text>
<text x="259.60" y="477.00" font-size="2.9" font-family='"Liberation Sans", sans-serif' fill="#555" transform="matrix(0.72 0 0 1 72.688 0)">&lt;60%</text>
<text x="283.20" y="477.00" font-size="2.9" font-family='"Liberation Sans", sans-serif' fill="#555" transform="matrix(0.72 0 0 1 79.296 0)">18/34</text>
<text x="341.30" y="477.00" font-size="2.9" font-family='"Liberation Sans", sans-serif' fill="#555" transform="matrix(0.72 0 0 1 95.564 0)">0.49 (0.17-1.44)</text>
<line x1="300.60" y1="476.50" x2="324.20" y2="476.50" stroke="#555" stroke-width="0.6"/>
<circle cx="312.40" cy="476.00" r="1.0" fill="#111"/>
<text x="259.60" y="480.00" font-size="2.9" font-family='"Liberation Sans", sans-serif' fill="#555" transform="matrix(0.72 0 0 1 72.688 0)">≥60%</text>
<text x="283.20" y="480.00" font-size="2.9" font-family='"Liberation Sans", sans-serif' fill="#555" transform="matrix(0.72 0 0 1 79.296 0)">11/23</text>
<text x="341.30" y="480.00" font-size="2.9" font-family='"Liberation Sans", sans-serif' fill="#555" transform="matrix(0.72 0 0 1 95.564 0)">1.25 (0.41-3.78)</text>
<line x1="310.00" y1="479.50" x2="332.20" y2="479.50" stroke="#555" stroke-width="0.6"/>
<circle cx="320.90" cy="479.00" r="1.0" fill="#111"/>
<text x="259.60" y="485.50" font-size="2.9" font-family='"Liberation Sans", sans-serif' fill="#555" transform="matrix(0.72 0 0 1 72.688 0)">CD4(+)/CD8(+) T cell</text>
<text x="259.60" y="488.50" font-size="2.9" font-family='"Liberation Sans", sans-serif' fill="#555" transform="matrix(0.72 0 0 1 72.688 0)">&lt;1.5</text>
<text x="283.20" y="488.50" font-size="2.9" font-family='"Liberation Sans", sans-serif' fill="#555" transform="matrix(0.72 0 0 1 79.296 0)">17/32</text>
<text x="341.30" y="488.50" font-size="2.9" font-family='"Liberation Sans", sans-serif' fill="#555" transform="matrix(0.72 0 0 1 95.564 0)">0.93 (0.33-2.65)</text>
<line x1="308.90" y1="487.50" x2="327.70" y2="487.50" stroke="#555" stroke-width="0.6"/>
<circle cx="318.30" cy="487.50" r="1.0" fill="#111"/>
<text x="259.60" y="491.40" font-size="2.9" font-family='"Liberation Sans", sans-serif' fill="#555" transform="matrix(0.72 0 0 1 72.688 0)">≥1.5</text>
<text x="283.20" y="491.40" font-size="2.9" font-family='"Liberation Sans", sans-serif' fill="#555" transform="matrix(0.72 0 0 1 79.296 0)">13/27</text>
<text x="341.30" y="491.40" font-size="2.9" font-family='"Liberation Sans", sans-serif' fill="#555" transform="matrix(0.72 0 0 1 95.564 0)">1.53 (0.37-6.38)</text>
<line x1="304.20" y1="490.50" x2="339.50" y2="490.50" stroke="#555" stroke-width="0.6"/>
<circle cx="322.40" cy="490.40" r="1.0" fill="#111"/>
<text x="377.90" y="287.30" font-size="5.4" font-family='"Liberation Sans", sans-serif' font-weight="bold" fill="#444" stroke="#444" stroke-width="0.1">F</text>
<line x1="396.50" y1="306.50" x2="396.50" y2="366.30" stroke="#555" stroke-width="0.45"/>
<line x1="396.40" y1="366.50" x2="478.50" y2="366.50" stroke="#555" stroke-width="0.45"/>
<line x1="395.40" y1="311.50" x2="396.40" y2="311.50" stroke="#555" stroke-width="0.35"/>
<text x="395.00" y="312.65" font-size="2.5" font-family='"Liberation Sans", sans-serif' font-weight="bold" text-anchor="end" fill="#333" stroke="#333" stroke-width="0.1">1.0</text>
<line x1="395.40" y1="322.50" x2="396.40" y2="322.50" stroke="#555" stroke-width="0.35"/>
<text x="395.00" y="323.55" font-size="2.5" font-family='"Liberation Sans", sans-serif' font-weight="bold" text-anchor="end" fill="#333" stroke="#333" stroke-width="0.1">0.8</text>
<line x1="395.40" y1="333.50" x2="396.40" y2="333.50" stroke="#555" stroke-width="0.35"/>
<text x="395.00" y="334.45" font-size="2.5" font-family='"Liberation Sans", sans-serif' font-weight="bold" text-anchor="end" fill="#333" stroke="#333" stroke-width="0.1">0.6</text>
<line x1="395.40" y1="344.50" x2="396.40" y2="344.50" stroke="#555" stroke-width="0.35"/>
<text x="395.00" y="345.35" font-size="2.5" font-family='"Liberation Sans", sans-serif' font-weight="bold" text-anchor="end" fill="#333" stroke="#333" stroke-width="0.1">0.4</text>
<line x1="395.40" y1="355.50" x2="396.40" y2="355.50" stroke="#555" stroke-width="0.35"/>
<text x="395.00" y="356.25" font-size="2.5" font-family='"Liberation Sans", sans-serif' font-weight="bold" text-anchor="end" fill="#333" stroke="#333" stroke-width="0.1">0.2</text>
<line x1="395.40" y1="366.50" x2="396.40" y2="366.50" stroke="#555" stroke-width="0.35"/>
<text x="395.00" y="367.15" font-size="2.5" font-family='"Liberation Sans", sans-serif' font-weight="bold" text-anchor="end" fill="#333" stroke="#333" stroke-width="0.1">0.0</text>
<line x1="396.50" y1="366.30" x2="396.50" y2="367.30" stroke="#555" stroke-width="0.35"/>
<text x="396.70" y="370.60" font-size="2.5" font-family='"Liberation Sans", sans-serif' font-weight="bold" text-anchor="middle" fill="#333" stroke="#333" stroke-width="0.1">0</text>
<line x1="404.50" y1="366.30" x2="404.50" y2="367.30" stroke="#555" stroke-width="0.35"/>
<text x="404.80" y="370.60" font-size="2.5" font-family='"Liberation Sans", sans-serif' font-weight="bold" text-anchor="middle" fill="#333" stroke="#333" stroke-width="0.1">6</text>
<line x1="412.50" y1="366.30" x2="412.50" y2="367.30" stroke="#555" stroke-width="0.35"/>
<text x="412.90" y="370.60" font-size="2.5" font-family='"Liberation Sans", sans-serif' font-weight="bold" text-anchor="middle" fill="#333" stroke="#333" stroke-width="0.1">12</text>
<line x1="421.50" y1="366.30" x2="421.50" y2="367.30" stroke="#555" stroke-width="0.35"/>
<text x="421.00" y="370.60" font-size="2.5" font-family='"Liberation Sans", sans-serif' font-weight="bold" text-anchor="middle" fill="#333" stroke="#333" stroke-width="0.1">18</text>
<line x1="429.50" y1="366.30" x2="429.50" y2="367.30" stroke="#555" stroke-width="0.35"/>
<text x="429.10" y="370.60" font-size="2.5" font-family='"Liberation Sans", sans-serif' font-weight="bold" text-anchor="middle" fill="#333" stroke="#333" stroke-width="0.1">24</text>
<line x1="437.50" y1="366.30" x2="437.50" y2="367.30" stroke="#555" stroke-width="0.35"/>
<text x="437.20" y="370.60" font-size="2.5" font-family='"Liberation Sans", sans-serif' font-weight="bold" text-anchor="middle" fill="#333" stroke="#333" stroke-width="0.1">30</text>
<line x1="445.50" y1="366.30" x2="445.50" y2="367.30" stroke="#555" stroke-width="0.35"/>
<text x="445.30" y="370.60" font-size="2.5" font-family='"Liberation Sans", sans-serif' font-weight="bold" text-anchor="middle" fill="#333" stroke="#333" stroke-width="0.1">36</text>
<line x1="453.50" y1="366.30" x2="453.50" y2="367.30" stroke="#555" stroke-width="0.35"/>
<text x="453.40" y="370.60" font-size="2.5" font-family='"Liberation Sans", sans-serif' font-weight="bold" text-anchor="middle" fill="#333" stroke="#333" stroke-width="0.1">42</text>
<line x1="461.50" y1="366.30" x2="461.50" y2="367.30" stroke="#555" stroke-width="0.35"/>
<text x="461.50" y="370.60" font-size="2.5" font-family='"Liberation Sans", sans-serif' font-weight="bold" text-anchor="middle" fill="#333" stroke="#333" stroke-width="0.1">48</text>
<line x1="469.50" y1="366.30" x2="469.50" y2="367.30" stroke="#555" stroke-width="0.35"/>
<text x="469.60" y="370.60" font-size="2.5" font-family='"Liberation Sans", sans-serif' font-weight="bold" text-anchor="middle" fill="#333" stroke="#333" stroke-width="0.1">54</text>
<line x1="477.50" y1="366.30" x2="477.50" y2="367.30" stroke="#555" stroke-width="0.35"/>
<text x="477.70" y="370.60" font-size="2.5" font-family='"Liberation Sans", sans-serif' font-weight="bold" text-anchor="middle" fill="#333" stroke="#333" stroke-width="0.1">60</text>
<text x="389.30" y="329.00" font-size="3.0" font-family='"Liberation Sans", sans-serif' font-weight="bold" text-anchor="middle" fill="#222" transform="rotate(-90 389.30 329.00)" stroke="#222" stroke-width="0.1">EFS</text>
<path d="M396.80 311.80 L408.50 311.80 L408.50 344.00" fill="none" stroke="#e8a878" stroke-width="0.7"/>
<path d="M408.70 319.50 L410.70 319.50 L410.70 326.20 L413.40 326.20 L413.40 335.20 L428.70 335.20 L428.70 343.50 L453.00 343.50 L453.00 354.50 L477.70 354.50 L477.70 354.50" fill="none" stroke="#e85c64" stroke-width="1.0"/>
<path d="M408.90 320.60 L408.90 327.60 L455.90 327.60 L455.90 337.10 L476.00 337.10 L476.00 337.10" fill="none" stroke="#a83838" stroke-width="0.6" stroke-dasharray="1.2,1.2"/>
<path d="M396.80 315.20 L414.20 315.20 L414.20 319.80 L450.00 319.80 L450.00 324.80 L477.70 324.80 L477.70 324.80" fill="none" stroke="#3a3ad0" stroke-width="0.9"/>
<path d="M396.80 317.50 L398.50 317.50 L398.50 321.10 L476.00 321.10 L476.00 321.10" fill="none" stroke="#34349c" stroke-width="0.6" stroke-dasharray="1.2,1.2"/>
<path d="M396.80 318.00 L400.90 318.00 L400.90 324.00 L401.60 324.00 L401.60 339.20 L405.20 339.20 L405.20 344.50 L408.60 344.50 L408.60 352.90 L477.70 352.90 L477.70 352.90" fill="none" stroke="#9a9ae8" stroke-width="0.7"/>
<path d="M396.80 312.50 L407.10 312.50 L407.10 320.00 L407.60 320.00 L407.60 334.00 L408.40 334.00 L408.40 344.40 L426.30 344.40 L426.30 366.30" fill="none" stroke="#f0a0b0" stroke-width="0.6"/>
<path d="M480.00 325.10 L484.20 325.10 L484.20 355.10 L480.00 355.10" fill="none" stroke="#555" stroke-width="0.6"/>
<text x="486.40" y="339.60" font-size="2.7" font-family='"Liberation Sans", sans-serif' font-weight="bold" fill="#333" textLength="7.5" lengthAdjust="spacingAndGlyphs" stroke="#333" stroke-width="0.1">P&lt;0.001</text>
<line x1="420.40" y1="291.50" x2="424.70" y2="291.50" stroke="#d08080" stroke-width="0.6" stroke-dasharray="1,0.8"/>
<text x="427.10" y="292.40" font-size="2.2" font-family='"Liberation Sans", sans-serif' font-weight="bold" fill="#333" textLength="27" lengthAdjust="spacingAndGlyphs" stroke="#333" stroke-width="0.08">Group #1: IST(≤20m, n=15)</text>
<line x1="420.40" y1="299.50" x2="424.70" y2="299.50" stroke="#d8a0a0" stroke-width="0.6"/>
<text x="427.10" y="300.10" font-size="2.2" font-family='"Liberation Sans", sans-serif' font-weight="bold" fill="#333" textLength="36" lengthAdjust="spacingAndGlyphs" stroke="#333" stroke-width="0.08">Group #2: IST(disease dur.&gt;20m, n=5)</text>
<line x1="420.40" y1="307.50" x2="424.70" y2="307.50" stroke="#e8e0a0" stroke-width="0.6"/>
<text x="427.10" y="307.80" font-size="2.2" font-family='"Liberation Sans", sans-serif' font-weight="bold" fill="#333" textLength="26.5" lengthAdjust="spacingAndGlyphs" stroke="#333" stroke-width="0.08">Group #3: IST(ATG+, n=6)</text>
<line x1="472.50" y1="291.50" x2="477.00" y2="291.50" stroke="#9a9ae8" stroke-width="0.6" stroke-dasharray="1,0.8"/>
<text x="479.00" y="292.20" font-size="2.2" font-family='"Liberation Sans", sans-serif' font-weight="bold" fill="#333" textLength="28" lengthAdjust="spacingAndGlyphs" stroke="#333" stroke-width="0.08">Group #4: HSCT(&lt;20m, n=4)</text>
<line x1="472.50" y1="298.50" x2="477.00" y2="298.50" stroke="#34349c" stroke-width="0.6"/>
<text x="479.00" y="299.20" font-size="2.2" font-family='"Liberation Sans", sans-serif' font-weight="bold" fill="#333" textLength="40.5" lengthAdjust="spacingAndGlyphs" stroke="#333" stroke-width="0.08">Group #5: HSCT(disease dur.&gt;20m, n=14)</text>
<line x1="472.50" y1="305.50" x2="477.00" y2="305.50" stroke="#9a9ae8" stroke-width="0.6"/>
<text x="479.00" y="306.00" font-size="2.2" font-family='"Liberation Sans", sans-serif' font-weight="bold" fill="#333" textLength="29" lengthAdjust="spacingAndGlyphs" stroke="#333" stroke-width="0.08">Group #6: HSCT(ATG+, n=6)</text>
<text x="380.30" y="375.20" font-size="2.5" font-family='"Liberation Sans", sans-serif' font-weight="bold" fill="#333" textLength="12" lengthAdjust="spacingAndGlyphs" stroke="#333" stroke-width="0.06">No. at risk</text>
<text x="435.20" y="375.20" font-size="2.6" font-family='"Liberation Sans", sans-serif' font-weight="bold" text-anchor="middle" fill="#333" textLength="10.5" lengthAdjust="spacingAndGlyphs" stroke="#333" stroke-width="0.06">months</text>
<text x="380.30" y="380.30" font-size="2.4" font-family='"Liberation Sans", sans-serif' font-weight="bold" fill="#333" textLength="11" lengthAdjust="spacingAndGlyphs" stroke="#333" stroke-width="0.06">Group #1</text>
<text x="396.70" y="380.30" font-size="2.4" font-family='"Liberation Sans", sans-serif' font-weight="bold" text-anchor="middle" fill="#333" stroke="#333" stroke-width="0.05">15</text>
<text x="404.80" y="380.30" font-size="2.4" font-family='"Liberation Sans", sans-serif' font-weight="bold" text-anchor="middle" fill="#333" stroke="#333" stroke-width="0.05">15</text>
<text x="412.90" y="380.30" font-size="2.4" font-family='"Liberation Sans", sans-serif' font-weight="bold" text-anchor="middle" fill="#333" stroke="#333" stroke-width="0.05">9</text>
<text x="421.00" y="380.30" font-size="2.4" font-family='"Liberation Sans", sans-serif' font-weight="bold" text-anchor="middle" fill="#333" stroke="#333" stroke-width="0.05">9</text>
<text x="429.10" y="380.30" font-size="2.4" font-family='"Liberation Sans", sans-serif' font-weight="bold" text-anchor="middle" fill="#333" stroke="#333" stroke-width="0.05">7</text>
<text x="437.20" y="380.30" font-size="2.4" font-family='"Liberation Sans", sans-serif' font-weight="bold" text-anchor="middle" fill="#333" stroke="#333" stroke-width="0.05">6</text>
<text x="445.30" y="380.30" font-size="2.4" font-family='"Liberation Sans", sans-serif' font-weight="bold" text-anchor="middle" fill="#333" stroke="#333" stroke-width="0.05">6</text>
<text x="453.40" y="380.30" font-size="2.4" font-family='"Liberation Sans", sans-serif' font-weight="bold" text-anchor="middle" fill="#333" stroke="#333" stroke-width="0.05">4</text>
<text x="461.50" y="380.30" font-size="2.4" font-family='"Liberation Sans", sans-serif' font-weight="bold" text-anchor="middle" fill="#333" stroke="#333" stroke-width="0.05">3</text>
<text x="469.60" y="380.30" font-size="2.4" font-family='"Liberation Sans", sans-serif' font-weight="bold" text-anchor="middle" fill="#333" stroke="#333" stroke-width="0.05">2</text>
<text x="477.70" y="380.30" font-size="2.4" font-family='"Liberation Sans", sans-serif' font-weight="bold" text-anchor="middle" fill="#333" stroke="#333" stroke-width="0.05">2</text>
<text x="380.30" y="384.90" font-size="2.4" font-family='"Liberation Sans", sans-serif' font-weight="bold" fill="#333" textLength="11" lengthAdjust="spacingAndGlyphs" stroke="#333" stroke-width="0.06">Group #2</text>
<text x="396.70" y="384.90" font-size="2.4" font-family='"Liberation Sans", sans-serif' font-weight="bold" text-anchor="middle" fill="#333" stroke="#333" stroke-width="0.05">7</text>
<text x="404.80" y="384.90" font-size="2.4" font-family='"Liberation Sans", sans-serif' font-weight="bold" text-anchor="middle" fill="#333" stroke="#333" stroke-width="0.05">7</text>
<text x="412.90" y="384.90" font-size="2.4" font-family='"Liberation Sans", sans-serif' font-weight="bold" text-anchor="middle" fill="#333" stroke="#333" stroke-width="0.05">4</text>
<text x="421.00" y="384.90" font-size="2.4" font-family='"Liberation Sans", sans-serif' font-weight="bold" text-anchor="middle" fill="#333" stroke="#333" stroke-width="0.05">4</text>
<text x="429.10" y="384.90" font-size="2.4" font-family='"Liberation Sans", sans-serif' font-weight="bold" text-anchor="middle" fill="#333" stroke="#333" stroke-width="0.05">2</text>
<text x="437.20" y="384.90" font-size="2.4" font-family='"Liberation Sans", sans-serif' font-weight="bold" text-anchor="middle" fill="#333" stroke="#333" stroke-width="0.05">1</text>
<text x="445.30" y="384.90" font-size="2.4" font-family='"Liberation Sans", sans-serif' font-weight="bold" text-anchor="middle" fill="#333" stroke="#333" stroke-width="0.05">1</text>
<text x="453.40" y="384.90" font-size="2.4" font-family='"Liberation Sans", sans-serif' font-weight="bold" text-anchor="middle" fill="#333" stroke="#333" stroke-width="0.05">1</text>
<text x="461.50" y="384.90" font-size="2.4" font-family='"Liberation Sans", sans-serif' font-weight="bold" text-anchor="middle" fill="#333" stroke="#333" stroke-width="0.05">1</text>
<text x="469.60" y="384.90" font-size="2.4" font-family='"Liberation Sans", sans-serif' font-weight="bold" text-anchor="middle" fill="#333" stroke="#333" stroke-width="0.05">1</text>
<text x="477.70" y="384.90" font-size="2.4" font-family='"Liberation Sans", sans-serif' font-weight="bold" text-anchor="middle" fill="#333" stroke="#333" stroke-width="0.05">1</text>
<text x="380.30" y="389.30" font-size="2.4" font-family='"Liberation Sans", sans-serif' font-weight="bold" fill="#333" textLength="11" lengthAdjust="spacingAndGlyphs" stroke="#333" stroke-width="0.06">Group #3</text>
<text x="396.70" y="389.30" font-size="2.4" font-family='"Liberation Sans", sans-serif' font-weight="bold" text-anchor="middle" fill="#333" stroke="#333" stroke-width="0.05">5</text>
<text x="404.80" y="389.30" font-size="2.4" font-family='"Liberation Sans", sans-serif' font-weight="bold" text-anchor="middle" fill="#333" stroke="#333" stroke-width="0.05">6</text>
<text x="412.90" y="389.30" font-size="2.4" font-family='"Liberation Sans", sans-serif' font-weight="bold" text-anchor="middle" fill="#333" stroke="#333" stroke-width="0.05">3</text>
<text x="421.00" y="389.30" font-size="2.4" font-family='"Liberation Sans", sans-serif' font-weight="bold" text-anchor="middle" fill="#333" stroke="#333" stroke-width="0.05">1</text>
<text x="429.10" y="389.30" font-size="2.4" font-family='"Liberation Sans", sans-serif' font-weight="bold" text-anchor="middle" fill="#333" stroke="#333" stroke-width="0.05">0</text>
<text x="437.20" y="389.30" font-size="2.4" font-family='"Liberation Sans", sans-serif' font-weight="bold" text-anchor="middle" fill="#333" stroke="#333" stroke-width="0.05">0</text>
<text x="445.30" y="389.30" font-size="2.4" font-family='"Liberation Sans", sans-serif' font-weight="bold" text-anchor="middle" fill="#333" stroke="#333" stroke-width="0.05">0</text>
<text x="453.40" y="389.30" font-size="2.4" font-family='"Liberation Sans", sans-serif' font-weight="bold" text-anchor="middle" fill="#333" stroke="#333" stroke-width="0.05">0</text>
<text x="461.50" y="389.30" font-size="2.4" font-family='"Liberation Sans", sans-serif' font-weight="bold" text-anchor="middle" fill="#333" stroke="#333" stroke-width="0.05">0</text>
<text x="469.60" y="389.30" font-size="2.4" font-family='"Liberation Sans", sans-serif' font-weight="bold" text-anchor="middle" fill="#333" stroke="#333" stroke-width="0.05">0</text>
<text x="477.70" y="389.30" font-size="2.4" font-family='"Liberation Sans", sans-serif' font-weight="bold" text-anchor="middle" fill="#333" stroke="#333" stroke-width="0.05">0</text>
<text x="380.30" y="393.80" font-size="2.4" font-family='"Liberation Sans", sans-serif' font-weight="bold" fill="#333" textLength="11" lengthAdjust="spacingAndGlyphs" stroke="#333" stroke-width="0.06">Group #4</text>
<text x="396.70" y="393.80" font-size="2.4" font-family='"Liberation Sans", sans-serif' font-weight="bold" text-anchor="middle" fill="#333" stroke="#333" stroke-width="0.05">4</text>
<text x="404.80" y="393.80" font-size="2.4" font-family='"Liberation Sans", sans-serif' font-weight="bold" text-anchor="middle" fill="#333" stroke="#333" stroke-width="0.05">4</text>
<text x="412.90" y="393.80" font-size="2.4" font-family='"Liberation Sans", sans-serif' font-weight="bold" text-anchor="middle" fill="#333" stroke="#333" stroke-width="0.05">4</text>
<text x="421.00" y="393.80" font-size="2.4" font-family='"Liberation Sans", sans-serif' font-weight="bold" text-anchor="middle" fill="#333" stroke="#333" stroke-width="0.05">3</text>
<text x="429.10" y="393.80" font-size="2.4" font-family='"Liberation Sans", sans-serif' font-weight="bold" text-anchor="middle" fill="#333" stroke="#333" stroke-width="0.05">3</text>
<text x="437.20" y="393.80" font-size="2.4" font-family='"Liberation Sans", sans-serif' font-weight="bold" text-anchor="middle" fill="#333" stroke="#333" stroke-width="0.05">3</text>
<text x="445.30" y="393.80" font-size="2.4" font-family='"Liberation Sans", sans-serif' font-weight="bold" text-anchor="middle" fill="#333" stroke="#333" stroke-width="0.05">3</text>
<text x="453.40" y="393.80" font-size="2.4" font-family='"Liberation Sans", sans-serif' font-weight="bold" text-anchor="middle" fill="#333" stroke="#333" stroke-width="0.05">2</text>
<text x="461.50" y="393.80" font-size="2.4" font-family='"Liberation Sans", sans-serif' font-weight="bold" text-anchor="middle" fill="#333" stroke="#333" stroke-width="0.05">2</text>
<text x="469.60" y="393.80" font-size="2.4" font-family='"Liberation Sans", sans-serif' font-weight="bold" text-anchor="middle" fill="#333" stroke="#333" stroke-width="0.05">2</text>
<text x="477.70" y="393.80" font-size="2.4" font-family='"Liberation Sans", sans-serif' font-weight="bold" text-anchor="middle" fill="#333" stroke="#333" stroke-width="0.05">2</text>
<text x="380.30" y="398.20" font-size="2.4" font-family='"Liberation Sans", sans-serif' font-weight="bold" fill="#333" textLength="11" lengthAdjust="spacingAndGlyphs" stroke="#333" stroke-width="0.06">Group #5</text>
<text x="396.70" y="398.20" font-size="2.4" font-family='"Liberation Sans", sans-serif' font-weight="bold" text-anchor="middle" fill="#333" stroke="#333" stroke-width="0.05">14</text>
<text x="404.80" y="398.20" font-size="2.4" font-family='"Liberation Sans", sans-serif' font-weight="bold" text-anchor="middle" fill="#333" stroke="#333" stroke-width="0.05">13</text>
<text x="412.90" y="398.20" font-size="2.4" font-family='"Liberation Sans", sans-serif' font-weight="bold" text-anchor="middle" fill="#333" stroke="#333" stroke-width="0.05">13</text>
<text x="421.00" y="398.20" font-size="2.4" font-family='"Liberation Sans", sans-serif' font-weight="bold" text-anchor="middle" fill="#333" stroke="#333" stroke-width="0.05">12</text>
<text x="429.10" y="398.20" font-size="2.4" font-family='"Liberation Sans", sans-serif' font-weight="bold" text-anchor="middle" fill="#333" stroke="#333" stroke-width="0.05">12</text>
<text x="437.20" y="398.20" font-size="2.4" font-family='"Liberation Sans", sans-serif' font-weight="bold" text-anchor="middle" fill="#333" stroke="#333" stroke-width="0.05">11</text>
<text x="445.30" y="398.20" font-size="2.4" font-family='"Liberation Sans", sans-serif' font-weight="bold" text-anchor="middle" fill="#333" stroke="#333" stroke-width="0.05">9</text>
<text x="453.40" y="398.20" font-size="2.4" font-family='"Liberation Sans", sans-serif' font-weight="bold" text-anchor="middle" fill="#333" stroke="#333" stroke-width="0.05">7</text>
<text x="461.50" y="398.20" font-size="2.4" font-family='"Liberation Sans", sans-serif' font-weight="bold" text-anchor="middle" fill="#333" stroke="#333" stroke-width="0.05">7</text>
<text x="469.60" y="398.20" font-size="2.4" font-family='"Liberation Sans", sans-serif' font-weight="bold" text-anchor="middle" fill="#333" stroke="#333" stroke-width="0.05">5</text>
<text x="477.70" y="398.20" font-size="2.4" font-family='"Liberation Sans", sans-serif' font-weight="bold" text-anchor="middle" fill="#333" stroke="#333" stroke-width="0.05">5</text>
<text x="380.30" y="402.30" font-size="2.4" font-family='"Liberation Sans", sans-serif' font-weight="bold" fill="#333" textLength="11" lengthAdjust="spacingAndGlyphs" stroke="#333" stroke-width="0.06">Group #6</text>
<text x="396.70" y="402.30" font-size="2.4" font-family='"Liberation Sans", sans-serif' font-weight="bold" text-anchor="middle" fill="#333" stroke="#333" stroke-width="0.05">6</text>
<text x="404.80" y="402.30" font-size="2.4" font-family='"Liberation Sans", sans-serif' font-weight="bold" text-anchor="middle" fill="#333" stroke="#333" stroke-width="0.05">4</text>
<text x="412.90" y="402.30" font-size="2.4" font-family='"Liberation Sans", sans-serif' font-weight="bold" text-anchor="middle" fill="#333" stroke="#333" stroke-width="0.05">3</text>
<text x="421.00" y="402.30" font-size="2.4" font-family='"Liberation Sans", sans-serif' font-weight="bold" text-anchor="middle" fill="#333" stroke="#333" stroke-width="0.05">2</text>
<text x="429.10" y="402.30" font-size="2.4" font-family='"Liberation Sans", sans-serif' font-weight="bold" text-anchor="middle" fill="#333" stroke="#333" stroke-width="0.05">2</text>
<text x="437.20" y="402.30" font-size="2.4" font-family='"Liberation Sans", sans-serif' font-weight="bold" text-anchor="middle" fill="#333" stroke="#333" stroke-width="0.05">2</text>
<text x="445.30" y="402.30" font-size="2.4" font-family='"Liberation Sans", sans-serif' font-weight="bold" text-anchor="middle" fill="#333" stroke="#333" stroke-width="0.05">1</text>
<text x="453.40" y="402.30" font-size="2.4" font-family='"Liberation Sans", sans-serif' font-weight="bold" text-anchor="middle" fill="#333" stroke="#333" stroke-width="0.05">1</text>
<text x="461.50" y="402.30" font-size="2.4" font-family='"Liberation Sans", sans-serif' font-weight="bold" text-anchor="middle" fill="#333" stroke="#333" stroke-width="0.05">1</text>
<text x="469.60" y="402.30" font-size="2.4" font-family='"Liberation Sans", sans-serif' font-weight="bold" text-anchor="middle" fill="#333" stroke="#333" stroke-width="0.05">1</text>
<text x="477.70" y="402.30" font-size="2.4" font-family='"Liberation Sans", sans-serif' font-weight="bold" text-anchor="middle" fill="#333" stroke="#333" stroke-width="0.05">1</text>
</svg></body></html>
